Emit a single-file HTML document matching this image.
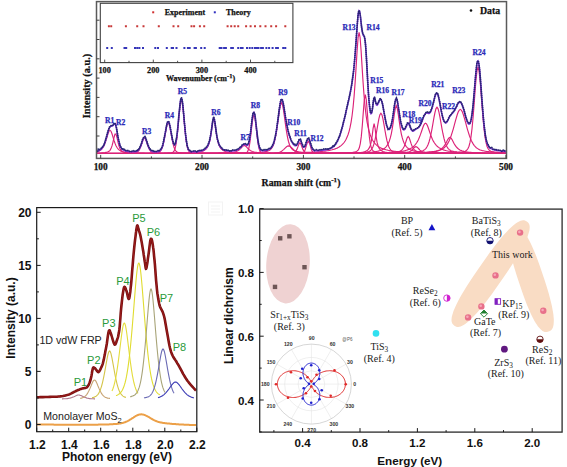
<!DOCTYPE html><html><head><meta charset="utf-8"><style>html,body{margin:0;padding:0;background:#fff;width:567px;height:467px;overflow:hidden}svg{display:block}</style></head><body>
<svg width="567" height="467" viewBox="0 0 567 467">
<rect width="567" height="467" fill="#fff"/>
<g fill="none" stroke="#dc2278" stroke-width="1.15">
<path d="M97 151.8 L98 151.5 L99 151.1 L100 150.6 L101 149.9 L102 148.9 L103 147.5 L104 145.7 L105 143.3 L106 140.4 L107 137.1 L108 133.8 L109 131.2 L110 130.2 L111 131.2 L112 133.8 L113 137.1 L114 140.4 L115 143.3 L116 145.7 L117 147.5 L118 148.9 L119 149.9 L120 150.6 L121 151.1 L122 151.5 L123 151.8 L124 152 L125 152.2 L126 152.3 L127 152.4 L128 152.5 L129 152.6 L130 152.7 L131 152.7 L132 152.8 L133 152.8 L134 152.9 L135 152.9 L136 153 L137 153 L138 153 L139 153 L140 153.1 L141 153.1 L142 153.1 L143 153.1 L144 153.1 L145 153.2 L146 153.2 L147 153.2 L148 153.2 L149 153.2 L150 153.2 L151 153.2 L152 153.2 L153 153.2 L154 153.2 L155 153.3 L156 153.3 L157 153.3 L158 153.3 L159 153.3 L160 153.3 L161 153.3 L162 153.3 L163 153.3 L164 153.3 L165 153.3 L166 153.3 L167 153.3 L168 153.3 L169 153.3 L170 153.3 L171 153.3 L172 153.3 L173 153.3 L174 153.3 L175 153.3 L176 153.3 L177 153.3 L178 153.3 L179 153.3 L180 153.3 L181 153.3 L182 153.3 L183 153.3 L184 153.3 L185 153.3 L186 153.3 L187 153.3 L188 153.3 L189 153.4 L190 153.4 L191 153.4 L192 153.4 L193 153.4 L194 153.4 L195 153.4 L196 153.4 L197 153.4 L198 153.4 L199 153.4"/>
<path d="M97 153.1 L98 153.1 L99 153.1 L100 153 L101 153 L102 152.9 L103 152.8 L104 152.7 L105 152.6 L106 152.4 L107 152.2 L108 151.8 L109 151.3 L110 150.3 L111 148.6 L112 145.9 L113 142.1 L114 137.5 L115 134 L116 134.1 L117 137.7 L118 142.2 L119 146 L120 148.7 L121 150.4 L122 151.3 L123 151.9 L124 152.2 L125 152.4 L126 152.6 L127 152.7 L128 152.8 L129 152.9 L130 153 L131 153 L132 153.1 L133 153.1 L134 153.1 L135 153.2 L136 153.2 L137 153.2 L138 153.2 L139 153.2 L140 153.2 L141 153.3 L142 153.3 L143 153.3 L144 153.3 L145 153.3 L146 153.3 L147 153.3 L148 153.3 L149 153.3 L150 153.3 L151 153.3 L152 153.3 L153 153.3 L154 153.3 L155 153.3 L156 153.3 L157 153.3 L158 153.3 L159 153.3 L160 153.4 L161 153.4 L162 153.4 L163 153.4 L164 153.4 L165 153.4 L166 153.4 L167 153.4 L168 153.4 L169 153.4 L170 153.4 L171 153.4 L172 153.4 L173 153.4 L174 153.4 L175 153.4 L176 153.4 L177 153.4 L178 153.4 L179 153.4 L180 153.4 L181 153.4 L182 153.4 L183 153.4 L184 153.4 L185 153.4 L186 153.4 L187 153.4 L188 153.4 L189 153.4 L190 153.4 L191 153.4 L192 153.4 L193 153.4 L194 153.4 L195 153.4 L196 153.4 L197 153.4 L198 153.4 L199 153.4 L200 153.4 L201 153.4 L202 153.4 L203 153.4 L204 153.4 L205 153.4"/>
<path d="M97 153.4 L98 153.4 L99 153.4 L100 153.4 L101 153.4 L102 153.4 L103 153.4 L104 153.4 L105 153.4 L106 153.4 L107 153.4 L108 153.4 L109 153.3 L110 153.3 L111 153.3 L112 153.3 L113 153.3 L114 153.3 L115 153.3 L116 153.3 L117 153.3 L118 153.3 L119 153.3 L120 153.3 L121 153.3 L122 153.3 L123 153.3 L124 153.2 L125 153.2 L126 153.2 L127 153.2 L128 153.2 L129 153.1 L130 153.1 L131 153.1 L132 153 L133 152.9 L134 152.8 L135 152.7 L136 152.5 L137 152.1 L138 151.5 L139 150.3 L140 148.6 L141 146.1 L142 143.1 L143 140.1 L144 138.2 L145 138.3 L146 140.4 L147 143.4 L148 146.4 L149 148.8 L150 150.5 L151 151.5 L152 152.2 L153 152.5 L154 152.7 L155 152.9 L156 152.9 L157 153 L158 153.1 L159 153.1 L160 153.1 L161 153.2 L162 153.2 L163 153.2 L164 153.2 L165 153.2 L166 153.3 L167 153.3 L168 153.3 L169 153.3 L170 153.3 L171 153.3 L172 153.3 L173 153.3 L174 153.3 L175 153.3 L176 153.3 L177 153.3 L178 153.3 L179 153.3 L180 153.3 L181 153.4 L182 153.4 L183 153.4 L184 153.4 L185 153.4 L186 153.4 L187 153.4 L188 153.4 L189 153.4 L190 153.4 L191 153.4 L192 153.4 L193 153.4 L194 153.4 L195 153.4 L196 153.4 L197 153.4 L198 153.4 L199 153.4 L200 153.4 L201 153.4 L202 153.4 L203 153.4 L204 153.4 L205 153.4 L206 153.4 L207 153.4 L208 153.4 L209 153.4 L210 153.4 L211 153.4 L212 153.4 L213 153.4 L214 153.4 L215 153.4 L216 153.4 L217 153.4 L218 153.4 L219 153.4 L220 153.4 L221 153.4 L222 153.4 L223 153.4 L224 153.4 L225 153.4 L226 153.4 L227 153.4 L228 153.4 L229 153.4 L230 153.4 L231 153.4 L232 153.4 L233 153.4 L234 153.4"/>
<path d="M97 153.4 L98 153.4 L99 153.4 L100 153.4 L101 153.4 L102 153.4 L103 153.4 L104 153.4 L105 153.4 L106 153.4 L107 153.4 L108 153.4 L109 153.4 L110 153.4 L111 153.4 L112 153.4 L113 153.4 L114 153.4 L115 153.4 L116 153.4 L117 153.4 L118 153.4 L119 153.4 L120 153.4 L121 153.4 L122 153.4 L123 153.4 L124 153.4 L125 153.4 L126 153.4 L127 153.3 L128 153.3 L129 153.3 L130 153.3 L131 153.3 L132 153.3 L133 153.3 L134 153.3 L135 153.3 L136 153.3 L137 153.3 L138 153.3 L139 153.3 L140 153.3 L141 153.3 L142 153.3 L143 153.3 L144 153.3 L145 153.2 L146 153.2 L147 153.2 L148 153.2 L149 153.2 L150 153.1 L151 153.1 L152 153.1 L153 153 L154 153 L155 152.9 L156 152.8 L157 152.7 L158 152.5 L159 152.2 L160 151.6 L161 150.4 L162 148.4 L163 145.3 L164 140.9 L165 135.5 L166 129.8 L167 125 L168 122.7 L169 123.7 L170 127.7 L171 133.2 L172 138.8 L173 143.7 L174 147.3 L175 149.8 L176 151.2 L177 152 L178 152.4 L179 152.7 L180 152.8 L181 152.9 L182 153 L183 153 L184 153.1 L185 153.1 L186 153.1 L187 153.2 L188 153.2 L189 153.2 L190 153.2 L191 153.2 L192 153.2 L193 153.3 L194 153.3 L195 153.3 L196 153.3 L197 153.3 L198 153.3 L199 153.3 L200 153.3 L201 153.3 L202 153.3 L203 153.3 L204 153.3 L205 153.3 L206 153.3 L207 153.3 L208 153.3 L209 153.3 L210 153.4 L211 153.4 L212 153.4 L213 153.4 L214 153.4 L215 153.4 L216 153.4 L217 153.4 L218 153.4 L219 153.4 L220 153.4 L221 153.4 L222 153.4 L223 153.4 L224 153.4 L225 153.4 L226 153.4 L227 153.4 L228 153.4 L229 153.4 L230 153.4 L231 153.4 L232 153.4 L233 153.4 L234 153.4 L235 153.4 L236 153.4 L237 153.4 L238 153.4 L239 153.4 L240 153.4 L241 153.4 L242 153.4 L243 153.4 L244 153.4 L245 153.4 L246 153.4 L247 153.4 L248 153.4 L249 153.4 L250 153.4 L251 153.4 L252 153.4 L253 153.4 L254 153.4 L255 153.4 L256 153.4 L257 153.4 L258 153.4"/>
<path d="M97 153.4 L98 153.4 L99 153.4 L100 153.4 L101 153.4 L102 153.4 L103 153.4 L104 153.4 L105 153.4 L106 153.4 L107 153.4 L108 153.4 L109 153.4 L110 153.4 L111 153.4 L112 153.4 L113 153.4 L114 153.4 L115 153.4 L116 153.4 L117 153.4 L118 153.4 L119 153.4 L120 153.4 L121 153.4 L122 153.4 L123 153.4 L124 153.4 L125 153.4 L126 153.4 L127 153.4 L128 153.4 L129 153.4 L130 153.4 L131 153.4 L132 153.4 L133 153.4 L134 153.4 L135 153.4 L136 153.4 L137 153.4 L138 153.4 L139 153.4 L140 153.4 L141 153.4 L142 153.4 L143 153.4 L144 153.4 L145 153.4 L146 153.4 L147 153.4 L148 153.4 L149 153.3 L150 153.3 L151 153.3 L152 153.3 L153 153.3 L154 153.3 L155 153.3 L156 153.3 L157 153.3 L158 153.3 L159 153.3 L160 153.3 L161 153.3 L162 153.3 L163 153.2 L164 153.2 L165 153.2 L166 153.2 L167 153.2 L168 153.1 L169 153.1 L170 153 L171 152.9 L172 152.7 L173 152.2 L174 151.1 L175 148.8 L176 144.5 L177 137.4 L178 127.6 L179 116.3 L180 106.1 L181 100.2 L182 101.1 L183 108.3 L184 119.1 L185 130.2 L186 139.4 L187 145.8 L188 149.5 L189 151.5 L190 152.4 L191 152.8 L192 152.9 L193 153 L194 153.1 L195 153.1 L196 153.2 L197 153.2 L198 153.2 L199 153.2 L200 153.3 L201 153.3 L202 153.3 L203 153.3 L204 153.3 L205 153.3 L206 153.3 L207 153.3 L208 153.3 L209 153.3 L210 153.3 L211 153.3 L212 153.3 L213 153.3 L214 153.4 L215 153.4 L216 153.4 L217 153.4 L218 153.4 L219 153.4 L220 153.4 L221 153.4 L222 153.4 L223 153.4 L224 153.4 L225 153.4 L226 153.4 L227 153.4 L228 153.4 L229 153.4 L230 153.4 L231 153.4 L232 153.4 L233 153.4 L234 153.4 L235 153.4 L236 153.4 L237 153.4 L238 153.4 L239 153.4 L240 153.4 L241 153.4 L242 153.4 L243 153.4 L244 153.4 L245 153.4 L246 153.4 L247 153.4 L248 153.4 L249 153.4 L250 153.4 L251 153.4 L252 153.4 L253 153.4 L254 153.4 L255 153.4 L256 153.4 L257 153.4 L258 153.4 L259 153.4 L260 153.4 L261 153.4 L262 153.4 L263 153.4 L264 153.4 L265 153.4 L266 153.4 L267 153.4 L268 153.4 L269 153.4 L270 153.4 L271 153.4"/>
<path d="M123.7 153.4 L124.7 153.4 L125.7 153.4 L126.7 153.4 L127.7 153.4 L128.7 153.4 L129.7 153.4 L130.7 153.4 L131.7 153.4 L132.7 153.4 L133.7 153.4 L134.7 153.4 L135.7 153.4 L136.7 153.4 L137.7 153.3 L138.7 153.3 L139.7 153.3 L140.7 153.3 L141.7 153.3 L142.7 153.3 L143.7 153.3 L144.7 153.3 L145.7 153.3 L146.7 153.3 L147.7 153.3 L148.7 153.3 L149.7 153.3 L150.7 153.3 L151.7 153.3 L152.7 153.3 L153.7 153.3 L154.7 153.3 L155.7 153.3 L156.7 153.3 L157.7 153.3 L158.7 153.3 L159.7 153.3 L160.7 153.3 L161.7 153.3 L162.7 153.3 L163.7 153.3 L164.7 153.3 L165.7 153.3 L166.7 153.3 L167.7 153.3 L168.7 153.3 L169.7 153.2 L170.7 153.2 L171.7 153.2 L172.7 153.2 L173.7 153.2 L174.7 153.2 L175.7 153.2 L176.7 153.2 L177.7 153.2 L178.7 153.2 L179.7 153.1 L180.7 153.1 L181.7 153.1 L182.7 153.1 L183.7 153.1 L184.7 153.1 L185.7 153 L186.7 153 L187.7 153 L188.7 152.9 L189.7 152.9 L190.7 152.8 L191.7 152.8 L192.7 152.7 L193.7 152.7 L194.7 152.6 L195.7 152.5 L196.7 152.4 L197.7 152.3 L198.7 152.1 L199.7 152 L200.7 151.7 L201.7 151.5 L202.7 151.1 L203.7 150.7 L204.7 150.1 L205.7 149.3 L206.7 148.2 L207.7 146.7 L208.7 144.4 L209.7 141 L210.7 136 L211.7 129.2 L212.7 122 L213.7 118.6 L214.7 122 L215.7 129.2 L216.7 136 L217.7 141 L218.7 144.4 L219.7 146.7 L220.7 148.2 L221.7 149.3 L222.7 150.1 L223.7 150.7 L224.7 151.1 L225.7 151.5 L226.7 151.7 L227.7 152 L228.7 152.1 L229.7 152.3 L230.7 152.4 L231.7 152.5 L232.7 152.6 L233.7 152.7 L234.7 152.7 L235.7 152.8 L236.7 152.8 L237.7 152.9 L238.7 152.9 L239.7 153 L240.7 153 L241.7 153 L242.7 153.1 L243.7 153.1 L244.7 153.1 L245.7 153.1 L246.7 153.1 L247.7 153.1 L248.7 153.2 L249.7 153.2 L250.7 153.2 L251.7 153.2 L252.7 153.2 L253.7 153.2 L254.7 153.2 L255.7 153.2 L256.7 153.2 L257.7 153.2 L258.7 153.3 L259.7 153.3 L260.7 153.3 L261.7 153.3 L262.7 153.3 L263.7 153.3 L264.7 153.3 L265.7 153.3 L266.7 153.3 L267.7 153.3 L268.7 153.3 L269.7 153.3 L270.7 153.3 L271.7 153.3 L272.7 153.3 L273.7 153.3 L274.7 153.3 L275.7 153.3 L276.7 153.3 L277.7 153.3 L278.7 153.3 L279.7 153.3 L280.7 153.3 L281.7 153.3 L282.7 153.3 L283.7 153.3 L284.7 153.3 L285.7 153.3 L286.7 153.3 L287.7 153.3 L288.7 153.3 L289.7 153.3 L290.7 153.4 L291.7 153.4 L292.7 153.4 L293.7 153.4 L294.7 153.4 L295.7 153.4 L296.7 153.4 L297.7 153.4 L298.7 153.4 L299.7 153.4 L300.7 153.4 L301.7 153.4 L302.7 153.4"/>
<path d="M154.3 153.4 L155.3 153.4 L156.3 153.4 L157.3 153.4 L158.3 153.4 L159.3 153.4 L160.3 153.4 L161.3 153.4 L162.3 153.4 L163.3 153.4 L164.3 153.4 L165.3 153.4 L166.3 153.4 L167.3 153.4 L168.3 153.4 L169.3 153.4 L170.3 153.4 L171.3 153.4 L172.3 153.4 L173.3 153.4 L174.3 153.4 L175.3 153.4 L176.3 153.4 L177.3 153.4 L178.3 153.4 L179.3 153.4 L180.3 153.4 L181.3 153.4 L182.3 153.4 L183.3 153.4 L184.3 153.4 L185.3 153.4 L186.3 153.4 L187.3 153.4 L188.3 153.3 L189.3 153.3 L190.3 153.3 L191.3 153.3 L192.3 153.3 L193.3 153.3 L194.3 153.3 L195.3 153.3 L196.3 153.3 L197.3 153.3 L198.3 153.3 L199.3 153.3 L200.3 153.3 L201.3 153.3 L202.3 153.3 L203.3 153.3 L204.3 153.3 L205.3 153.3 L206.3 153.3 L207.3 153.3 L208.3 153.3 L209.3 153.3 L210.3 153.3 L211.3 153.3 L212.3 153.2 L213.3 153.2 L214.3 153.2 L215.3 153.2 L216.3 153.2 L217.3 153.2 L218.3 153.2 L219.3 153.1 L220.3 153.1 L221.3 153.1 L222.3 153.1 L223.3 153 L224.3 153 L225.3 153 L226.3 152.9 L227.3 152.9 L228.3 152.8 L229.3 152.7 L230.3 152.7 L231.3 152.5 L232.3 152.4 L233.3 152.3 L234.3 152.1 L235.3 151.8 L236.3 151.5 L237.3 151.1 L238.3 150.5 L239.3 149.8 L240.3 148.9 L241.3 147.9 L242.3 146.7 L243.3 145.8 L244.3 145.4 L245.3 145.8 L246.3 146.7 L247.3 147.9 L248.3 148.9 L249.3 149.8 L250.3 150.5 L251.3 151.1 L252.3 151.5 L253.3 151.8 L254.3 152.1 L255.3 152.3 L256.3 152.4 L257.3 152.5 L258.3 152.7 L259.3 152.7 L260.3 152.8 L261.3 152.9 L262.3 152.9 L263.3 153 L264.3 153 L265.3 153 L266.3 153.1 L267.3 153.1 L268.3 153.1 L269.3 153.1 L270.3 153.2 L271.3 153.2 L272.3 153.2 L273.3 153.2 L274.3 153.2 L275.3 153.2 L276.3 153.2 L277.3 153.3 L278.3 153.3 L279.3 153.3 L280.3 153.3 L281.3 153.3 L282.3 153.3 L283.3 153.3 L284.3 153.3 L285.3 153.3 L286.3 153.3 L287.3 153.3 L288.3 153.3 L289.3 153.3 L290.3 153.3 L291.3 153.3 L292.3 153.3 L293.3 153.3 L294.3 153.3 L295.3 153.3 L296.3 153.3 L297.3 153.3 L298.3 153.3 L299.3 153.3 L300.3 153.3 L301.3 153.4 L302.3 153.4 L303.3 153.4 L304.3 153.4 L305.3 153.4 L306.3 153.4 L307.3 153.4 L308.3 153.4 L309.3 153.4 L310.3 153.4 L311.3 153.4 L312.3 153.4 L313.3 153.4 L314.3 153.4 L315.3 153.4 L316.3 153.4 L317.3 153.4 L318.3 153.4 L319.3 153.4 L320.3 153.4 L321.3 153.4 L322.3 153.4 L323.3 153.4 L324.3 153.4 L325.3 153.4 L326.3 153.4 L327.3 153.4 L328.3 153.4 L329.3 153.4 L330.3 153.4 L331.3 153.4 L332.3 153.4 L333.3 153.4 L334.3 153.4"/>
<path d="M163.9 153.4 L164.9 153.4 L165.9 153.4 L166.9 153.4 L167.9 153.4 L168.9 153.4 L169.9 153.4 L170.9 153.4 L171.9 153.4 L172.9 153.4 L173.9 153.4 L174.9 153.4 L175.9 153.4 L176.9 153.4 L177.9 153.4 L178.9 153.4 L179.9 153.4 L180.9 153.4 L181.9 153.4 L182.9 153.4 L183.9 153.4 L184.9 153.4 L185.9 153.4 L186.9 153.4 L187.9 153.4 L188.9 153.4 L189.9 153.4 L190.9 153.4 L191.9 153.4 L192.9 153.4 L193.9 153.4 L194.9 153.4 L195.9 153.4 L196.9 153.4 L197.9 153.4 L198.9 153.4 L199.9 153.4 L200.9 153.4 L201.9 153.4 L202.9 153.4 L203.9 153.4 L204.9 153.4 L205.9 153.4 L206.9 153.4 L207.9 153.4 L208.9 153.4 L209.9 153.4 L210.9 153.4 L211.9 153.4 L212.9 153.4 L213.9 153.4 L214.9 153.4 L215.9 153.4 L216.9 153.4 L217.9 153.4 L218.9 153.4 L219.9 153.4 L220.9 153.4 L221.9 153.4 L222.9 153.4 L223.9 153.4 L224.9 153.4 L225.9 153.4 L226.9 153.4 L227.9 153.4 L228.9 153.4 L229.9 153.4 L230.9 153.4 L231.9 153.4 L232.9 153.4 L233.9 153.4 L234.9 153.4 L235.9 153.4 L236.9 153.4 L237.9 153.4 L238.9 153.4 L239.9 153.4 L240.9 153.4 L241.9 153.4 L242.9 153.4 L243.9 153.4 L244.9 153.3 L245.9 153.1 L246.9 152.6 L247.9 151.1 L248.9 148 L249.9 142.4 L250.9 134.4 L251.9 125.3 L252.9 117.9 L253.9 115 L254.9 117.9 L255.9 125.3 L256.9 134.4 L257.9 142.4 L258.9 148 L259.9 151.1 L260.9 152.6 L261.9 153.1 L262.9 153.3 L263.9 153.4 L264.9 153.4 L265.9 153.4 L266.9 153.4 L267.9 153.4 L268.9 153.4 L269.9 153.4 L270.9 153.4 L271.9 153.4 L272.9 153.4 L273.9 153.4 L274.9 153.4 L275.9 153.4 L276.9 153.4 L277.9 153.4 L278.9 153.4 L279.9 153.4 L280.9 153.4 L281.9 153.4 L282.9 153.4 L283.9 153.4 L284.9 153.4 L285.9 153.4 L286.9 153.4 L287.9 153.4 L288.9 153.4 L289.9 153.4 L290.9 153.4 L291.9 153.4 L292.9 153.4 L293.9 153.4 L294.9 153.4 L295.9 153.4 L296.9 153.4 L297.9 153.4 L298.9 153.4 L299.9 153.4 L300.9 153.4 L301.9 153.4 L302.9 153.4 L303.9 153.4 L304.9 153.4 L305.9 153.4 L306.9 153.4 L307.9 153.4 L308.9 153.4 L309.9 153.4 L310.9 153.4 L311.9 153.4 L312.9 153.4 L313.9 153.4 L314.9 153.4 L315.9 153.4 L316.9 153.4 L317.9 153.4 L318.9 153.4 L319.9 153.4 L320.9 153.4 L321.9 153.4 L322.9 153.4 L323.9 153.4 L324.9 153.4 L325.9 153.4 L326.9 153.4 L327.9 153.4 L328.9 153.4 L329.9 153.4 L330.9 153.4 L331.9 153.4 L332.9 153.4 L333.9 153.4 L334.9 153.4 L335.9 153.4 L336.9 153.4 L337.9 153.4 L338.9 153.4 L339.9 153.4 L340.9 153.4 L341.9 153.4 L342.9 153.4"/>
<path d="M191.5 153.3 L192.5 153.3 L193.5 153.3 L194.5 153.3 L195.5 153.3 L196.5 153.3 L197.5 153.3 L198.5 153.3 L199.5 153.3 L200.5 153.3 L201.5 153.3 L202.5 153.3 L203.5 153.3 L204.5 153.3 L205.5 153.3 L206.5 153.3 L207.5 153.3 L208.5 153.3 L209.5 153.3 L210.5 153.3 L211.5 153.3 L212.5 153.3 L213.5 153.3 L214.5 153.3 L215.5 153.3 L216.5 153.3 L217.5 153.3 L218.5 153.3 L219.5 153.3 L220.5 153.3 L221.5 153.3 L222.5 153.3 L223.5 153.3 L224.5 153.3 L225.5 153.2 L226.5 153.2 L227.5 153.2 L228.5 153.2 L229.5 153.2 L230.5 153.2 L231.5 153.2 L232.5 153.2 L233.5 153.2 L234.5 153.2 L235.5 153.2 L236.5 153.2 L237.5 153.2 L238.5 153.1 L239.5 153.1 L240.5 153.1 L241.5 153.1 L242.5 153.1 L243.5 153.1 L244.5 153.1 L245.5 153 L246.5 153 L247.5 153 L248.5 153 L249.5 152.9 L250.5 152.9 L251.5 152.9 L252.5 152.8 L253.5 152.8 L254.5 152.8 L255.5 152.7 L256.5 152.6 L257.5 152.6 L258.5 152.5 L259.5 152.4 L260.5 152.3 L261.5 152.2 L262.5 152.1 L263.5 152 L264.5 151.8 L265.5 151.6 L266.5 151.4 L267.5 151.1 L268.5 150.8 L269.5 150.3 L270.5 149.5 L271.5 148.5 L272.5 147 L273.5 144.7 L274.5 141.5 L275.5 137.1 L276.5 131.4 L277.5 124.6 L278.5 117.2 L279.5 110.1 L280.5 104.7 L281.5 102.7 L282.5 104.7 L283.5 110.1 L284.5 117.2 L285.5 124.6 L286.5 131.4 L287.5 137.1 L288.5 141.5 L289.5 144.7 L290.5 147 L291.5 148.5 L292.5 149.5 L293.5 150.3 L294.5 150.8 L295.5 151.1 L296.5 151.4 L297.5 151.6 L298.5 151.8 L299.5 152 L300.5 152.1 L301.5 152.2 L302.5 152.3 L303.5 152.4 L304.5 152.5 L305.5 152.6 L306.5 152.6 L307.5 152.7 L308.5 152.8 L309.5 152.8 L310.5 152.8 L311.5 152.9 L312.5 152.9 L313.5 152.9 L314.5 153 L315.5 153 L316.5 153 L317.5 153 L318.5 153.1 L319.5 153.1 L320.5 153.1 L321.5 153.1 L322.5 153.1 L323.5 153.1 L324.5 153.1 L325.5 153.2 L326.5 153.2 L327.5 153.2 L328.5 153.2 L329.5 153.2 L330.5 153.2 L331.5 153.2 L332.5 153.2 L333.5 153.2 L334.5 153.2 L335.5 153.2 L336.5 153.2 L337.5 153.2 L338.5 153.3 L339.5 153.3 L340.5 153.3 L341.5 153.3 L342.5 153.3 L343.5 153.3 L344.5 153.3 L345.5 153.3 L346.5 153.3 L347.5 153.3 L348.5 153.3 L349.5 153.3 L350.5 153.3 L351.5 153.3 L352.5 153.3 L353.5 153.3 L354.5 153.3 L355.5 153.3 L356.5 153.3 L357.5 153.3 L358.5 153.3 L359.5 153.3 L360.5 153.3 L361.5 153.3 L362.5 153.3 L363.5 153.3 L364.5 153.3 L365.5 153.3 L366.5 153.3 L367.5 153.3 L368.5 153.3 L369.5 153.3 L370.5 153.3"/>
<path d="M198.6 153.4 L199.6 153.4 L200.6 153.4 L201.6 153.4 L202.6 153.4 L203.6 153.4 L204.6 153.4 L205.6 153.4 L206.6 153.4 L207.6 153.4 L208.6 153.4 L209.6 153.4 L210.6 153.4 L211.6 153.4 L212.6 153.4 L213.6 153.4 L214.6 153.4 L215.6 153.4 L216.6 153.4 L217.6 153.4 L218.6 153.4 L219.6 153.4 L220.6 153.4 L221.6 153.4 L222.6 153.4 L223.6 153.4 L224.6 153.4 L225.6 153.4 L226.6 153.4 L227.6 153.4 L228.6 153.4 L229.6 153.4 L230.6 153.4 L231.6 153.4 L232.6 153.4 L233.6 153.4 L234.6 153.4 L235.6 153.4 L236.6 153.4 L237.6 153.4 L238.6 153.4 L239.6 153.4 L240.6 153.4 L241.6 153.4 L242.6 153.4 L243.6 153.4 L244.6 153.4 L245.6 153.4 L246.6 153.4 L247.6 153.4 L248.6 153.4 L249.6 153.4 L250.6 153.4 L251.6 153.4 L252.6 153.4 L253.6 153.4 L254.6 153.4 L255.6 153.4 L256.6 153.3 L257.6 153.3 L258.6 153.3 L259.6 153.3 L260.6 153.3 L261.6 153.3 L262.6 153.3 L263.6 153.3 L264.6 153.3 L265.6 153.3 L266.6 153.3 L267.6 153.3 L268.6 153.3 L269.6 153.3 L270.6 153.2 L271.6 153.2 L272.6 153.2 L273.6 153.2 L274.6 153.1 L275.6 153.1 L276.6 153 L277.6 152.8 L278.6 152.6 L279.6 152.3 L280.6 151.8 L281.6 151.2 L282.6 150.4 L283.6 149.6 L284.6 148.6 L285.6 147.6 L286.6 146.7 L287.6 146.1 L288.6 145.9 L289.6 146.1 L290.6 146.7 L291.6 147.6 L292.6 148.6 L293.6 149.6 L294.6 150.4 L295.6 151.2 L296.6 151.8 L297.6 152.3 L298.6 152.6 L299.6 152.8 L300.6 153 L301.6 153.1 L302.6 153.1 L303.6 153.2 L304.6 153.2 L305.6 153.2 L306.6 153.2 L307.6 153.3 L308.6 153.3 L309.6 153.3 L310.6 153.3 L311.6 153.3 L312.6 153.3 L313.6 153.3 L314.6 153.3 L315.6 153.3 L316.6 153.3 L317.6 153.3 L318.6 153.3 L319.6 153.3 L320.6 153.3 L321.6 153.4 L322.6 153.4 L323.6 153.4 L324.6 153.4 L325.6 153.4 L326.6 153.4 L327.6 153.4 L328.6 153.4 L329.6 153.4 L330.6 153.4 L331.6 153.4 L332.6 153.4 L333.6 153.4 L334.6 153.4 L335.6 153.4 L336.6 153.4 L337.6 153.4 L338.6 153.4 L339.6 153.4 L340.6 153.4 L341.6 153.4 L342.6 153.4 L343.6 153.4 L344.6 153.4 L345.6 153.4 L346.6 153.4 L347.6 153.4 L348.6 153.4 L349.6 153.4 L350.6 153.4 L351.6 153.4 L352.6 153.4 L353.6 153.4 L354.6 153.4 L355.6 153.4 L356.6 153.4 L357.6 153.4 L358.6 153.4 L359.6 153.4 L360.6 153.4 L361.6 153.4 L362.6 153.4 L363.6 153.4 L364.6 153.4 L365.6 153.4 L366.6 153.4 L367.6 153.4 L368.6 153.4 L369.6 153.4 L370.6 153.4 L371.6 153.4 L372.6 153.4 L373.6 153.4 L374.6 153.4 L375.6 153.4 L376.6 153.4 L377.6 153.4"/>
<path d="M209.9 153.4 L210.9 153.4 L211.9 153.4 L212.9 153.4 L213.9 153.4 L214.9 153.4 L215.9 153.4 L216.9 153.4 L217.9 153.4 L218.9 153.4 L219.9 153.4 L220.9 153.4 L221.9 153.4 L222.9 153.4 L223.9 153.4 L224.9 153.4 L225.9 153.4 L226.9 153.4 L227.9 153.4 L228.9 153.4 L229.9 153.4 L230.9 153.4 L231.9 153.4 L232.9 153.4 L233.9 153.4 L234.9 153.4 L235.9 153.4 L236.9 153.4 L237.9 153.4 L238.9 153.4 L239.9 153.4 L240.9 153.4 L241.9 153.4 L242.9 153.4 L243.9 153.4 L244.9 153.4 L245.9 153.4 L246.9 153.4 L247.9 153.4 L248.9 153.4 L249.9 153.4 L250.9 153.4 L251.9 153.4 L252.9 153.4 L253.9 153.4 L254.9 153.4 L255.9 153.4 L256.9 153.4 L257.9 153.4 L258.9 153.4 L259.9 153.4 L260.9 153.4 L261.9 153.4 L262.9 153.4 L263.9 153.4 L264.9 153.4 L265.9 153.4 L266.9 153.4 L267.9 153.4 L268.9 153.4 L269.9 153.4 L270.9 153.4 L271.9 153.4 L272.9 153.4 L273.9 153.3 L274.9 153.3 L275.9 153.3 L276.9 153.3 L277.9 153.3 L278.9 153.3 L279.9 153.3 L280.9 153.3 L281.9 153.3 L282.9 153.3 L283.9 153.3 L284.9 153.3 L285.9 153.2 L286.9 153.2 L287.9 153.2 L288.9 153.1 L289.9 153.1 L290.9 153 L291.9 152.9 L292.9 152.8 L293.9 152.5 L294.9 152 L295.9 151.1 L296.9 149.4 L297.9 146.9 L298.9 144.1 L299.9 142.7 L300.9 144.1 L301.9 146.9 L302.9 149.4 L303.9 151.1 L304.9 152 L305.9 152.5 L306.9 152.8 L307.9 152.9 L308.9 153 L309.9 153.1 L310.9 153.1 L311.9 153.2 L312.9 153.2 L313.9 153.2 L314.9 153.3 L315.9 153.3 L316.9 153.3 L317.9 153.3 L318.9 153.3 L319.9 153.3 L320.9 153.3 L321.9 153.3 L322.9 153.3 L323.9 153.3 L324.9 153.3 L325.9 153.3 L326.9 153.4 L327.9 153.4 L328.9 153.4 L329.9 153.4 L330.9 153.4 L331.9 153.4 L332.9 153.4 L333.9 153.4 L334.9 153.4 L335.9 153.4 L336.9 153.4 L337.9 153.4 L338.9 153.4 L339.9 153.4 L340.9 153.4 L341.9 153.4 L342.9 153.4 L343.9 153.4 L344.9 153.4 L345.9 153.4 L346.9 153.4 L347.9 153.4 L348.9 153.4 L349.9 153.4 L350.9 153.4 L351.9 153.4 L352.9 153.4 L353.9 153.4 L354.9 153.4 L355.9 153.4 L356.9 153.4 L357.9 153.4 L358.9 153.4 L359.9 153.4 L360.9 153.4 L361.9 153.4 L362.9 153.4 L363.9 153.4 L364.9 153.4 L365.9 153.4 L366.9 153.4 L367.9 153.4 L368.9 153.4 L369.9 153.4 L370.9 153.4 L371.9 153.4 L372.9 153.4 L373.9 153.4 L374.9 153.4 L375.9 153.4 L376.9 153.4 L377.9 153.4 L378.9 153.4 L379.9 153.4 L380.9 153.4 L381.9 153.4 L382.9 153.4 L383.9 153.4 L384.9 153.4 L385.9 153.4 L386.9 153.4 L387.9 153.4 L388.9 153.4"/>
<path d="M218.3 153.4 L219.3 153.4 L220.3 153.4 L221.3 153.4 L222.3 153.4 L223.3 153.4 L224.3 153.4 L225.3 153.4 L226.3 153.4 L227.3 153.4 L228.3 153.4 L229.3 153.4 L230.3 153.4 L231.3 153.4 L232.3 153.4 L233.3 153.4 L234.3 153.4 L235.3 153.4 L236.3 153.4 L237.3 153.4 L238.3 153.4 L239.3 153.4 L240.3 153.4 L241.3 153.4 L242.3 153.4 L243.3 153.4 L244.3 153.4 L245.3 153.4 L246.3 153.4 L247.3 153.4 L248.3 153.4 L249.3 153.4 L250.3 153.4 L251.3 153.4 L252.3 153.4 L253.3 153.4 L254.3 153.4 L255.3 153.4 L256.3 153.4 L257.3 153.4 L258.3 153.4 L259.3 153.4 L260.3 153.4 L261.3 153.4 L262.3 153.4 L263.3 153.4 L264.3 153.4 L265.3 153.4 L266.3 153.4 L267.3 153.4 L268.3 153.4 L269.3 153.4 L270.3 153.4 L271.3 153.4 L272.3 153.4 L273.3 153.4 L274.3 153.4 L275.3 153.4 L276.3 153.4 L277.3 153.4 L278.3 153.4 L279.3 153.4 L280.3 153.4 L281.3 153.4 L282.3 153.4 L283.3 153.4 L284.3 153.4 L285.3 153.4 L286.3 153.4 L287.3 153.4 L288.3 153.4 L289.3 153.4 L290.3 153.4 L291.3 153.4 L292.3 153.4 L293.3 153.4 L294.3 153.4 L295.3 153.4 L296.3 153.4 L297.3 153.4 L298.3 153.4 L299.3 153.4 L300.3 153.4 L301.3 153.4 L302.3 153.2 L303.3 152.8 L304.3 151.6 L305.3 149.2 L306.3 145.9 L307.3 142.8 L308.3 141.5 L309.3 142.8 L310.3 145.9 L311.3 149.2 L312.3 151.6 L313.3 152.8 L314.3 153.2 L315.3 153.4 L316.3 153.4 L317.3 153.4 L318.3 153.4 L319.3 153.4 L320.3 153.4 L321.3 153.4 L322.3 153.4 L323.3 153.4 L324.3 153.4 L325.3 153.4 L326.3 153.4 L327.3 153.4 L328.3 153.4 L329.3 153.4 L330.3 153.4 L331.3 153.4 L332.3 153.4 L333.3 153.4 L334.3 153.4 L335.3 153.4 L336.3 153.4 L337.3 153.4 L338.3 153.4 L339.3 153.4 L340.3 153.4 L341.3 153.4 L342.3 153.4 L343.3 153.4 L344.3 153.4 L345.3 153.4 L346.3 153.4 L347.3 153.4 L348.3 153.4 L349.3 153.4 L350.3 153.4 L351.3 153.4 L352.3 153.4 L353.3 153.4 L354.3 153.4 L355.3 153.4 L356.3 153.4 L357.3 153.4 L358.3 153.4 L359.3 153.4 L360.3 153.4 L361.3 153.4 L362.3 153.4 L363.3 153.4 L364.3 153.4 L365.3 153.4 L366.3 153.4 L367.3 153.4 L368.3 153.4 L369.3 153.4 L370.3 153.4 L371.3 153.4 L372.3 153.4 L373.3 153.4 L374.3 153.4 L375.3 153.4 L376.3 153.4 L377.3 153.4 L378.3 153.4 L379.3 153.4 L380.3 153.4 L381.3 153.4 L382.3 153.4 L383.3 153.4 L384.3 153.4 L385.3 153.4 L386.3 153.4 L387.3 153.4 L388.3 153.4 L389.3 153.4 L390.3 153.4 L391.3 153.4 L392.3 153.4 L393.3 153.4 L394.3 153.4 L395.3 153.4 L396.3 153.4 L397.3 153.4"/>
<path d="M269.1 153.1 L270.1 153.1 L271.1 153.1 L272.1 153 L273.1 153 L274.1 153 L275.1 153 L276.1 153 L277.1 153 L278.1 153 L279.1 153 L280.1 153 L281.1 153 L282.1 152.9 L283.1 152.9 L284.1 152.9 L285.1 152.9 L286.1 152.9 L287.1 152.9 L288.1 152.9 L289.1 152.9 L290.1 152.8 L291.1 152.8 L292.1 152.8 L293.1 152.8 L294.1 152.8 L295.1 152.7 L296.1 152.7 L297.1 152.7 L298.1 152.7 L299.1 152.7 L300.1 152.6 L301.1 152.6 L302.1 152.6 L303.1 152.5 L304.1 152.5 L305.1 152.5 L306.1 152.4 L307.1 152.4 L308.1 152.4 L309.1 152.3 L310.1 152.3 L311.1 152.2 L312.1 152.2 L313.1 152.1 L314.1 152.1 L315.1 152 L316.1 152 L317.1 151.9 L318.1 151.8 L319.1 151.7 L320.1 151.6 L321.1 151.6 L322.1 151.5 L323.1 151.3 L324.1 151.2 L325.1 151.1 L326.1 151 L327.1 150.8 L328.1 150.7 L329.1 150.5 L330.1 150.3 L331.1 150 L332.1 149.8 L333.1 149.5 L334.1 149.2 L335.1 148.9 L336.1 148.5 L337.1 148.1 L338.1 147.6 L339.1 147 L340.1 146.3 L341.1 145.6 L342.1 144.7 L343.1 143.7 L344.1 142.5 L345.1 141 L346.1 139.3 L347.1 137.1 L348.1 134.5 L349.1 131.3 L350.1 127.2 L351.1 122.1 L352.1 115.5 L353.1 107 L354.1 96.3 L355.1 82.8 L356.1 67.1 L357.1 50.7 L358.1 37.5 L359.1 32.3 L360.1 37.5 L361.1 50.7 L362.1 67.1 L363.1 82.8 L364.1 96.3 L365.1 107 L366.1 115.5 L367.1 122.1 L368.1 127.2 L369.1 131.3 L370.1 134.5 L371.1 137.1 L372.1 139.3 L373.1 141 L374.1 142.5 L375.1 143.7 L376.1 144.7 L377.1 145.6 L378.1 146.3 L379.1 147 L380.1 147.6 L381.1 148.1 L382.1 148.5 L383.1 148.9 L384.1 149.2 L385.1 149.5 L386.1 149.8 L387.1 150 L388.1 150.3 L389.1 150.5 L390.1 150.7 L391.1 150.8 L392.1 151 L393.1 151.1 L394.1 151.2 L395.1 151.3 L396.1 151.5 L397.1 151.6 L398.1 151.6 L399.1 151.7 L400.1 151.8 L401.1 151.9 L402.1 152 L403.1 152 L404.1 152.1 L405.1 152.1 L406.1 152.2 L407.1 152.2 L408.1 152.3 L409.1 152.3 L410.1 152.4 L411.1 152.4 L412.1 152.4 L413.1 152.5 L414.1 152.5 L415.1 152.5 L416.1 152.6 L417.1 152.6 L418.1 152.6 L419.1 152.7 L420.1 152.7 L421.1 152.7 L422.1 152.7 L423.1 152.7 L424.1 152.8 L425.1 152.8 L426.1 152.8 L427.1 152.8 L428.1 152.8 L429.1 152.9 L430.1 152.9 L431.1 152.9 L432.1 152.9 L433.1 152.9 L434.1 152.9 L435.1 152.9 L436.1 152.9 L437.1 153 L438.1 153 L439.1 153 L440.1 153 L441.1 153 L442.1 153 L443.1 153 L444.1 153 L445.1 153 L446.1 153 L447.1 153.1 L448.1 153.1"/>
<path d="M275.3 153.4 L276.3 153.4 L277.3 153.4 L278.3 153.4 L279.3 153.4 L280.3 153.4 L281.3 153.4 L282.3 153.4 L283.3 153.4 L284.3 153.4 L285.3 153.4 L286.3 153.4 L287.3 153.4 L288.3 153.4 L289.3 153.4 L290.3 153.4 L291.3 153.4 L292.3 153.4 L293.3 153.4 L294.3 153.4 L295.3 153.4 L296.3 153.4 L297.3 153.4 L298.3 153.4 L299.3 153.4 L300.3 153.4 L301.3 153.4 L302.3 153.4 L303.3 153.4 L304.3 153.4 L305.3 153.4 L306.3 153.4 L307.3 153.4 L308.3 153.3 L309.3 153.3 L310.3 153.3 L311.3 153.3 L312.3 153.3 L313.3 153.3 L314.3 153.3 L315.3 153.3 L316.3 153.3 L317.3 153.3 L318.3 153.3 L319.3 153.3 L320.3 153.3 L321.3 153.3 L322.3 153.3 L323.3 153.3 L324.3 153.3 L325.3 153.3 L326.3 153.3 L327.3 153.3 L328.3 153.3 L329.3 153.3 L330.3 153.3 L331.3 153.3 L332.3 153.3 L333.3 153.2 L334.3 153.2 L335.3 153.2 L336.3 153.2 L337.3 153.2 L338.3 153.2 L339.3 153.2 L340.3 153.1 L341.3 153.1 L342.3 153.1 L343.3 153.1 L344.3 153 L345.3 153 L346.3 153 L347.3 152.9 L348.3 152.8 L349.3 152.8 L350.3 152.7 L351.3 152.6 L352.3 152.5 L353.3 152.3 L354.3 152.1 L355.3 151.9 L356.3 151.5 L357.3 150.9 L358.3 149.9 L359.3 147.8 L360.3 143.6 L361.3 136.4 L362.3 125.5 L363.3 112.2 L364.3 99.9 L365.3 94.7 L366.3 99.9 L367.3 112.2 L368.3 125.5 L369.3 136.4 L370.3 143.6 L371.3 147.8 L372.3 149.9 L373.3 150.9 L374.3 151.5 L375.3 151.9 L376.3 152.1 L377.3 152.3 L378.3 152.5 L379.3 152.6 L380.3 152.7 L381.3 152.8 L382.3 152.8 L383.3 152.9 L384.3 153 L385.3 153 L386.3 153 L387.3 153.1 L388.3 153.1 L389.3 153.1 L390.3 153.1 L391.3 153.2 L392.3 153.2 L393.3 153.2 L394.3 153.2 L395.3 153.2 L396.3 153.2 L397.3 153.2 L398.3 153.3 L399.3 153.3 L400.3 153.3 L401.3 153.3 L402.3 153.3 L403.3 153.3 L404.3 153.3 L405.3 153.3 L406.3 153.3 L407.3 153.3 L408.3 153.3 L409.3 153.3 L410.3 153.3 L411.3 153.3 L412.3 153.3 L413.3 153.3 L414.3 153.3 L415.3 153.3 L416.3 153.3 L417.3 153.3 L418.3 153.3 L419.3 153.3 L420.3 153.3 L421.3 153.3 L422.3 153.3 L423.3 153.4 L424.3 153.4 L425.3 153.4 L426.3 153.4 L427.3 153.4 L428.3 153.4 L429.3 153.4 L430.3 153.4 L431.3 153.4 L432.3 153.4 L433.3 153.4 L434.3 153.4 L435.3 153.4 L436.3 153.4 L437.3 153.4 L438.3 153.4 L439.3 153.4 L440.3 153.4 L441.3 153.4 L442.3 153.4 L443.3 153.4 L444.3 153.4 L445.3 153.4 L446.3 153.4 L447.3 153.4 L448.3 153.4 L449.3 153.4 L450.3 153.4 L451.3 153.4 L452.3 153.4 L453.3 153.4 L454.3 153.4"/>
<path d="M284.1 153.4 L285.1 153.4 L286.1 153.4 L287.1 153.4 L288.1 153.4 L289.1 153.4 L290.1 153.4 L291.1 153.4 L292.1 153.4 L293.1 153.4 L294.1 153.4 L295.1 153.4 L296.1 153.4 L297.1 153.4 L298.1 153.4 L299.1 153.4 L300.1 153.4 L301.1 153.4 L302.1 153.4 L303.1 153.4 L304.1 153.4 L305.1 153.4 L306.1 153.4 L307.1 153.4 L308.1 153.4 L309.1 153.4 L310.1 153.4 L311.1 153.4 L312.1 153.4 L313.1 153.4 L314.1 153.4 L315.1 153.4 L316.1 153.4 L317.1 153.4 L318.1 153.3 L319.1 153.3 L320.1 153.3 L321.1 153.3 L322.1 153.3 L323.1 153.3 L324.1 153.3 L325.1 153.3 L326.1 153.3 L327.1 153.3 L328.1 153.3 L329.1 153.3 L330.1 153.3 L331.1 153.3 L332.1 153.3 L333.1 153.3 L334.1 153.3 L335.1 153.3 L336.1 153.3 L337.1 153.3 L338.1 153.3 L339.1 153.3 L340.1 153.3 L341.1 153.3 L342.1 153.2 L343.1 153.2 L344.1 153.2 L345.1 153.2 L346.1 153.2 L347.1 153.2 L348.1 153.2 L349.1 153.2 L350.1 153.1 L351.1 153.1 L352.1 153.1 L353.1 153 L354.1 153 L355.1 153 L356.1 152.9 L357.1 152.9 L358.1 152.8 L359.1 152.7 L360.1 152.6 L361.1 152.5 L362.1 152.3 L363.1 152.2 L364.1 151.9 L365.1 151.6 L366.1 151.1 L367.1 150.5 L368.1 149.6 L369.1 148.2 L370.1 146 L371.1 142.4 L372.1 136.5 L373.1 128.4 L374.1 123.7 L375.1 128.4 L376.1 136.5 L377.1 142.4 L378.1 146 L379.1 148.2 L380.1 149.6 L381.1 150.5 L382.1 151.1 L383.1 151.6 L384.1 151.9 L385.1 152.2 L386.1 152.3 L387.1 152.5 L388.1 152.6 L389.1 152.7 L390.1 152.8 L391.1 152.9 L392.1 152.9 L393.1 153 L394.1 153 L395.1 153 L396.1 153.1 L397.1 153.1 L398.1 153.1 L399.1 153.2 L400.1 153.2 L401.1 153.2 L402.1 153.2 L403.1 153.2 L404.1 153.2 L405.1 153.2 L406.1 153.2 L407.1 153.3 L408.1 153.3 L409.1 153.3 L410.1 153.3 L411.1 153.3 L412.1 153.3 L413.1 153.3 L414.1 153.3 L415.1 153.3 L416.1 153.3 L417.1 153.3 L418.1 153.3 L419.1 153.3 L420.1 153.3 L421.1 153.3 L422.1 153.3 L423.1 153.3 L424.1 153.3 L425.1 153.3 L426.1 153.3 L427.1 153.3 L428.1 153.3 L429.1 153.3 L430.1 153.3 L431.1 153.4 L432.1 153.4 L433.1 153.4 L434.1 153.4 L435.1 153.4 L436.1 153.4 L437.1 153.4 L438.1 153.4 L439.1 153.4 L440.1 153.4 L441.1 153.4 L442.1 153.4 L443.1 153.4 L444.1 153.4 L445.1 153.4 L446.1 153.4 L447.1 153.4 L448.1 153.4 L449.1 153.4 L450.1 153.4 L451.1 153.4 L452.1 153.4 L453.1 153.4 L454.1 153.4 L455.1 153.4 L456.1 153.4 L457.1 153.4 L458.1 153.4 L459.1 153.4 L460.1 153.4 L461.1 153.4 L462.1 153.4 L463.1 153.4"/>
<path d="M290.9 153.4 L291.9 153.4 L292.9 153.4 L293.9 153.4 L294.9 153.4 L295.9 153.4 L296.9 153.4 L297.9 153.4 L298.9 153.4 L299.9 153.4 L300.9 153.4 L301.9 153.4 L302.9 153.4 L303.9 153.4 L304.9 153.4 L305.9 153.4 L306.9 153.3 L307.9 153.3 L308.9 153.3 L309.9 153.3 L310.9 153.3 L311.9 153.3 L312.9 153.3 L313.9 153.3 L314.9 153.3 L315.9 153.3 L316.9 153.3 L317.9 153.3 L318.9 153.3 L319.9 153.3 L320.9 153.3 L321.9 153.3 L322.9 153.3 L323.9 153.3 L324.9 153.3 L325.9 153.3 L326.9 153.3 L327.9 153.3 L328.9 153.3 L329.9 153.3 L330.9 153.3 L331.9 153.3 L332.9 153.3 L333.9 153.3 L334.9 153.3 L335.9 153.3 L336.9 153.3 L337.9 153.3 L338.9 153.2 L339.9 153.2 L340.9 153.2 L341.9 153.2 L342.9 153.2 L343.9 153.2 L344.9 153.2 L345.9 153.2 L346.9 153.2 L347.9 153.2 L348.9 153.1 L349.9 153.1 L350.9 153.1 L351.9 153.1 L352.9 153.1 L353.9 153 L354.9 153 L355.9 153 L356.9 152.9 L357.9 152.9 L358.9 152.9 L359.9 152.8 L360.9 152.7 L361.9 152.7 L362.9 152.6 L363.9 152.5 L364.9 152.4 L365.9 152.3 L366.9 152.1 L367.9 151.8 L368.9 151.5 L369.9 151 L370.9 150.1 L371.9 148.8 L372.9 146.9 L373.9 144.1 L374.9 140.4 L375.9 135.6 L376.9 130 L377.9 124.1 L378.9 118.7 L379.9 114.7 L380.9 113.2 L381.9 114.7 L382.9 118.7 L383.9 124.1 L384.9 130 L385.9 135.6 L386.9 140.4 L387.9 144.1 L388.9 146.9 L389.9 148.8 L390.9 150.1 L391.9 151 L392.9 151.5 L393.9 151.8 L394.9 152.1 L395.9 152.3 L396.9 152.4 L397.9 152.5 L398.9 152.6 L399.9 152.7 L400.9 152.7 L401.9 152.8 L402.9 152.9 L403.9 152.9 L404.9 152.9 L405.9 153 L406.9 153 L407.9 153 L408.9 153.1 L409.9 153.1 L410.9 153.1 L411.9 153.1 L412.9 153.1 L413.9 153.2 L414.9 153.2 L415.9 153.2 L416.9 153.2 L417.9 153.2 L418.9 153.2 L419.9 153.2 L420.9 153.2 L421.9 153.2 L422.9 153.2 L423.9 153.3 L424.9 153.3 L425.9 153.3 L426.9 153.3 L427.9 153.3 L428.9 153.3 L429.9 153.3 L430.9 153.3 L431.9 153.3 L432.9 153.3 L433.9 153.3 L434.9 153.3 L435.9 153.3 L436.9 153.3 L437.9 153.3 L438.9 153.3 L439.9 153.3 L440.9 153.3 L441.9 153.3 L442.9 153.3 L443.9 153.3 L444.9 153.3 L445.9 153.3 L446.9 153.3 L447.9 153.3 L448.9 153.3 L449.9 153.3 L450.9 153.3 L451.9 153.3 L452.9 153.3 L453.9 153.3 L454.9 153.3 L455.9 153.4 L456.9 153.4 L457.9 153.4 L458.9 153.4 L459.9 153.4 L460.9 153.4 L461.9 153.4 L462.9 153.4 L463.9 153.4 L464.9 153.4 L465.9 153.4 L466.9 153.4 L467.9 153.4 L468.9 153.4 L469.9 153.4"/>
<path d="M306.3 153.3 L307.3 153.3 L308.3 153.3 L309.3 153.3 L310.3 153.3 L311.3 153.3 L312.3 153.3 L313.3 153.3 L314.3 153.3 L315.3 153.3 L316.3 153.3 L317.3 153.3 L318.3 153.3 L319.3 153.3 L320.3 153.3 L321.3 153.3 L322.3 153.3 L323.3 153.3 L324.3 153.2 L325.3 153.2 L326.3 153.2 L327.3 153.2 L328.3 153.2 L329.3 153.2 L330.3 153.2 L331.3 153.2 L332.3 153.2 L333.3 153.2 L334.3 153.2 L335.3 153.2 L336.3 153.2 L337.3 153.2 L338.3 153.2 L339.3 153.2 L340.3 153.1 L341.3 153.1 L342.3 153.1 L343.3 153.1 L344.3 153.1 L345.3 153.1 L346.3 153.1 L347.3 153.1 L348.3 153.1 L349.3 153 L350.3 153 L351.3 153 L352.3 153 L353.3 153 L354.3 153 L355.3 152.9 L356.3 152.9 L357.3 152.9 L358.3 152.9 L359.3 152.8 L360.3 152.8 L361.3 152.8 L362.3 152.7 L363.3 152.7 L364.3 152.6 L365.3 152.6 L366.3 152.5 L367.3 152.5 L368.3 152.4 L369.3 152.3 L370.3 152.3 L371.3 152.2 L372.3 152.1 L373.3 151.9 L374.3 151.8 L375.3 151.7 L376.3 151.5 L377.3 151.3 L378.3 151.1 L379.3 150.8 L380.3 150.5 L381.3 150.1 L382.3 149.7 L383.3 149.1 L384.3 148.5 L385.3 147.6 L386.3 146.6 L387.3 145.2 L388.3 143.5 L389.3 141.1 L390.3 137.9 L391.3 133.8 L392.3 128.4 L393.3 121.7 L394.3 114.4 L395.3 108.3 L396.3 105.7 L397.3 108.3 L398.3 114.4 L399.3 121.7 L400.3 128.4 L401.3 133.8 L402.3 137.9 L403.3 141.1 L404.3 143.5 L405.3 145.2 L406.3 146.6 L407.3 147.6 L408.3 148.5 L409.3 149.1 L410.3 149.7 L411.3 150.1 L412.3 150.5 L413.3 150.8 L414.3 151.1 L415.3 151.3 L416.3 151.5 L417.3 151.7 L418.3 151.8 L419.3 151.9 L420.3 152.1 L421.3 152.2 L422.3 152.3 L423.3 152.3 L424.3 152.4 L425.3 152.5 L426.3 152.5 L427.3 152.6 L428.3 152.6 L429.3 152.7 L430.3 152.7 L431.3 152.8 L432.3 152.8 L433.3 152.8 L434.3 152.9 L435.3 152.9 L436.3 152.9 L437.3 152.9 L438.3 153 L439.3 153 L440.3 153 L441.3 153 L442.3 153 L443.3 153 L444.3 153.1 L445.3 153.1 L446.3 153.1 L447.3 153.1 L448.3 153.1 L449.3 153.1 L450.3 153.1 L451.3 153.1 L452.3 153.1 L453.3 153.2 L454.3 153.2 L455.3 153.2 L456.3 153.2 L457.3 153.2 L458.3 153.2 L459.3 153.2 L460.3 153.2 L461.3 153.2 L462.3 153.2 L463.3 153.2 L464.3 153.2 L465.3 153.2 L466.3 153.2 L467.3 153.2 L468.3 153.2 L469.3 153.3 L470.3 153.3 L471.3 153.3 L472.3 153.3 L473.3 153.3 L474.3 153.3 L475.3 153.3 L476.3 153.3 L477.3 153.3 L478.3 153.3 L479.3 153.3 L480.3 153.3 L481.3 153.3 L482.3 153.3 L483.3 153.3 L484.3 153.3 L485.3 153.3"/>
<path d="M318.2 153.4 L319.2 153.4 L320.2 153.4 L321.2 153.4 L322.2 153.4 L323.2 153.4 L324.2 153.4 L325.2 153.4 L326.2 153.4 L327.2 153.4 L328.2 153.4 L329.2 153.4 L330.2 153.4 L331.2 153.4 L332.2 153.4 L333.2 153.4 L334.2 153.4 L335.2 153.4 L336.2 153.4 L337.2 153.4 L338.2 153.4 L339.2 153.4 L340.2 153.4 L341.2 153.4 L342.2 153.4 L343.2 153.4 L344.2 153.4 L345.2 153.4 L346.2 153.4 L347.2 153.4 L348.2 153.4 L349.2 153.4 L350.2 153.3 L351.2 153.3 L352.2 153.3 L353.2 153.3 L354.2 153.3 L355.2 153.3 L356.2 153.3 L357.2 153.3 L358.2 153.3 L359.2 153.3 L360.2 153.3 L361.2 153.3 L362.2 153.3 L363.2 153.3 L364.2 153.3 L365.2 153.3 L366.2 153.3 L367.2 153.3 L368.2 153.3 L369.2 153.3 L370.2 153.3 L371.2 153.3 L372.2 153.3 L373.2 153.3 L374.2 153.3 L375.2 153.2 L376.2 153.2 L377.2 153.2 L378.2 153.2 L379.2 153.2 L380.2 153.2 L381.2 153.2 L382.2 153.2 L383.2 153.1 L384.2 153.1 L385.2 153.1 L386.2 153.1 L387.2 153 L388.2 153 L389.2 152.9 L390.2 152.9 L391.2 152.8 L392.2 152.8 L393.2 152.7 L394.2 152.6 L395.2 152.5 L396.2 152.3 L397.2 152.1 L398.2 151.9 L399.2 151.5 L400.2 151.1 L401.2 150.5 L402.2 149.6 L403.2 148.3 L404.2 146.4 L405.2 143.9 L406.2 140.8 L407.2 137.8 L408.2 136.5 L409.2 137.8 L410.2 140.8 L411.2 143.9 L412.2 146.4 L413.2 148.3 L414.2 149.6 L415.2 150.5 L416.2 151.1 L417.2 151.5 L418.2 151.9 L419.2 152.1 L420.2 152.3 L421.2 152.5 L422.2 152.6 L423.2 152.7 L424.2 152.8 L425.2 152.8 L426.2 152.9 L427.2 152.9 L428.2 153 L429.2 153 L430.2 153.1 L431.2 153.1 L432.2 153.1 L433.2 153.1 L434.2 153.2 L435.2 153.2 L436.2 153.2 L437.2 153.2 L438.2 153.2 L439.2 153.2 L440.2 153.2 L441.2 153.2 L442.2 153.3 L443.2 153.3 L444.2 153.3 L445.2 153.3 L446.2 153.3 L447.2 153.3 L448.2 153.3 L449.2 153.3 L450.2 153.3 L451.2 153.3 L452.2 153.3 L453.2 153.3 L454.2 153.3 L455.2 153.3 L456.2 153.3 L457.2 153.3 L458.2 153.3 L459.2 153.3 L460.2 153.3 L461.2 153.3 L462.2 153.3 L463.2 153.3 L464.2 153.3 L465.2 153.3 L466.2 153.3 L467.2 153.4 L468.2 153.4 L469.2 153.4 L470.2 153.4 L471.2 153.4 L472.2 153.4 L473.2 153.4 L474.2 153.4 L475.2 153.4 L476.2 153.4 L477.2 153.4 L478.2 153.4 L479.2 153.4 L480.2 153.4 L481.2 153.4 L482.2 153.4 L483.2 153.4 L484.2 153.4 L485.2 153.4 L486.2 153.4 L487.2 153.4 L488.2 153.4 L489.2 153.4 L490.2 153.4 L491.2 153.4 L492.2 153.4 L493.2 153.4 L494.2 153.4 L495.2 153.4 L496.2 153.4 L497.2 153.4"/>
<path d="M325.9 153.4 L326.9 153.4 L327.9 153.4 L328.9 153.4 L329.9 153.4 L330.9 153.4 L331.9 153.4 L332.9 153.4 L333.9 153.4 L334.9 153.4 L335.9 153.4 L336.9 153.4 L337.9 153.4 L338.9 153.4 L339.9 153.4 L340.9 153.4 L341.9 153.4 L342.9 153.4 L343.9 153.4 L344.9 153.4 L345.9 153.4 L346.9 153.4 L347.9 153.4 L348.9 153.4 L349.9 153.4 L350.9 153.4 L351.9 153.4 L352.9 153.4 L353.9 153.4 L354.9 153.4 L355.9 153.4 L356.9 153.4 L357.9 153.4 L358.9 153.4 L359.9 153.4 L360.9 153.4 L361.9 153.4 L362.9 153.4 L363.9 153.4 L364.9 153.4 L365.9 153.4 L366.9 153.4 L367.9 153.4 L368.9 153.4 L369.9 153.4 L370.9 153.4 L371.9 153.4 L372.9 153.4 L373.9 153.4 L374.9 153.4 L375.9 153.4 L376.9 153.3 L377.9 153.3 L378.9 153.3 L379.9 153.3 L380.9 153.3 L381.9 153.3 L382.9 153.3 L383.9 153.3 L384.9 153.3 L385.9 153.3 L386.9 153.3 L387.9 153.3 L388.9 153.3 L389.9 153.3 L390.9 153.3 L391.9 153.3 L392.9 153.3 L393.9 153.2 L394.9 153.2 L395.9 153.2 L396.9 153.2 L397.9 153.2 L398.9 153.1 L399.9 153.1 L400.9 153.1 L401.9 153 L402.9 153 L403.9 152.9 L404.9 152.8 L405.9 152.7 L406.9 152.6 L407.9 152.3 L408.9 152 L409.9 151.5 L410.9 150.9 L411.9 150.1 L412.9 149 L413.9 147.9 L414.9 147 L415.9 146.6 L416.9 147 L417.9 147.9 L418.9 149 L419.9 150.1 L420.9 150.9 L421.9 151.5 L422.9 152 L423.9 152.3 L424.9 152.6 L425.9 152.7 L426.9 152.8 L427.9 152.9 L428.9 153 L429.9 153 L430.9 153.1 L431.9 153.1 L432.9 153.1 L433.9 153.2 L434.9 153.2 L435.9 153.2 L436.9 153.2 L437.9 153.2 L438.9 153.3 L439.9 153.3 L440.9 153.3 L441.9 153.3 L442.9 153.3 L443.9 153.3 L444.9 153.3 L445.9 153.3 L446.9 153.3 L447.9 153.3 L448.9 153.3 L449.9 153.3 L450.9 153.3 L451.9 153.3 L452.9 153.3 L453.9 153.3 L454.9 153.3 L455.9 153.4 L456.9 153.4 L457.9 153.4 L458.9 153.4 L459.9 153.4 L460.9 153.4 L461.9 153.4 L462.9 153.4 L463.9 153.4 L464.9 153.4 L465.9 153.4 L466.9 153.4 L467.9 153.4 L468.9 153.4 L469.9 153.4 L470.9 153.4 L471.9 153.4 L472.9 153.4 L473.9 153.4 L474.9 153.4 L475.9 153.4 L476.9 153.4 L477.9 153.4 L478.9 153.4 L479.9 153.4 L480.9 153.4 L481.9 153.4 L482.9 153.4 L483.9 153.4 L484.9 153.4 L485.9 153.4 L486.9 153.4 L487.9 153.4 L488.9 153.4 L489.9 153.4 L490.9 153.4 L491.9 153.4 L492.9 153.4 L493.9 153.4 L494.9 153.4 L495.9 153.4 L496.9 153.4 L497.9 153.4 L498.9 153.4 L499.9 153.4 L500.9 153.4 L501.9 153.4 L502.9 153.4 L503.9 153.4 L504.9 153.4"/>
<path d="M335.5 153.2 L336.5 153.2 L337.5 153.2 L338.5 153.2 L339.5 153.2 L340.5 153.2 L341.5 153.2 L342.5 153.2 L343.5 153.2 L344.5 153.2 L345.5 153.2 L346.5 153.2 L347.5 153.2 L348.5 153.2 L349.5 153.2 L350.5 153.2 L351.5 153.2 L352.5 153.2 L353.5 153.2 L354.5 153.1 L355.5 153.1 L356.5 153.1 L357.5 153.1 L358.5 153.1 L359.5 153.1 L360.5 153.1 L361.5 153.1 L362.5 153.1 L363.5 153.1 L364.5 153.1 L365.5 153 L366.5 153 L367.5 153 L368.5 153 L369.5 153 L370.5 153 L371.5 153 L372.5 153 L373.5 152.9 L374.5 152.9 L375.5 152.9 L376.5 152.9 L377.5 152.9 L378.5 152.8 L379.5 152.8 L380.5 152.8 L381.5 152.8 L382.5 152.7 L383.5 152.7 L384.5 152.7 L385.5 152.6 L386.5 152.6 L387.5 152.5 L388.5 152.5 L389.5 152.4 L390.5 152.4 L391.5 152.3 L392.5 152.3 L393.5 152.2 L394.5 152.1 L395.5 152 L396.5 152 L397.5 151.9 L398.5 151.7 L399.5 151.6 L400.5 151.5 L401.5 151.3 L402.5 151.2 L403.5 151 L404.5 150.8 L405.5 150.5 L406.5 150.2 L407.5 149.9 L408.5 149.5 L409.5 149.1 L410.5 148.6 L411.5 148 L412.5 147.4 L413.5 146.5 L414.5 145.6 L415.5 144.4 L416.5 143 L417.5 141.4 L418.5 139.4 L419.5 137.1 L420.5 134.4 L421.5 131.5 L422.5 128.5 L423.5 125.8 L424.5 123.9 L425.5 123.2 L426.5 123.9 L427.5 125.8 L428.5 128.5 L429.5 131.5 L430.5 134.4 L431.5 137.1 L432.5 139.4 L433.5 141.4 L434.5 143 L435.5 144.4 L436.5 145.6 L437.5 146.5 L438.5 147.4 L439.5 148 L440.5 148.6 L441.5 149.1 L442.5 149.5 L443.5 149.9 L444.5 150.2 L445.5 150.5 L446.5 150.8 L447.5 151 L448.5 151.2 L449.5 151.3 L450.5 151.5 L451.5 151.6 L452.5 151.7 L453.5 151.9 L454.5 152 L455.5 152 L456.5 152.1 L457.5 152.2 L458.5 152.3 L459.5 152.3 L460.5 152.4 L461.5 152.4 L462.5 152.5 L463.5 152.5 L464.5 152.6 L465.5 152.6 L466.5 152.7 L467.5 152.7 L468.5 152.7 L469.5 152.8 L470.5 152.8 L471.5 152.8 L472.5 152.8 L473.5 152.9 L474.5 152.9 L475.5 152.9 L476.5 152.9 L477.5 152.9 L478.5 153 L479.5 153 L480.5 153 L481.5 153 L482.5 153 L483.5 153 L484.5 153 L485.5 153 L486.5 153.1 L487.5 153.1 L488.5 153.1 L489.5 153.1 L490.5 153.1 L491.5 153.1 L492.5 153.1 L493.5 153.1 L494.5 153.1 L495.5 153.1 L496.5 153.1 L497.5 153.2 L498.5 153.2 L499.5 153.2 L500.5 153.2 L501.5 153.2 L502.5 153.2 L503.5 153.2 L504.5 153.2 L505.5 153.2"/>
<path d="M347 153.3 L348 153.3 L349 153.3 L350 153.3 L351 153.3 L352 153.3 L353 153.3 L354 153.3 L355 153.3 L356 153.3 L357 153.3 L358 153.3 L359 153.3 L360 153.3 L361 153.3 L362 153.3 L363 153.3 L364 153.3 L365 153.3 L366 153.3 L367 153.3 L368 153.3 L369 153.3 L370 153.3 L371 153.3 L372 153.3 L373 153.3 L374 153.3 L375 153.3 L376 153.2 L377 153.2 L378 153.2 L379 153.2 L380 153.2 L381 153.2 L382 153.2 L383 153.2 L384 153.2 L385 153.2 L386 153.2 L387 153.2 L388 153.2 L389 153.2 L390 153.1 L391 153.1 L392 153.1 L393 153.1 L394 153.1 L395 153.1 L396 153.1 L397 153 L398 153 L399 153 L400 153 L401 153 L402 152.9 L403 152.9 L404 152.9 L405 152.9 L406 152.8 L407 152.8 L408 152.7 L409 152.7 L410 152.6 L411 152.6 L412 152.5 L413 152.5 L414 152.4 L415 152.3 L416 152.2 L417 152.1 L418 151.9 L419 151.8 L420 151.6 L421 151.3 L422 151 L423 150.7 L424 150.1 L425 149.4 L426 148.3 L427 146.8 L428 144.8 L429 142 L430 138.4 L431 134 L432 128.9 L433 123.2 L434 117.4 L435 112.3 L436 108.6 L437 107.3 L438 108.6 L439 112.3 L440 117.4 L441 123.2 L442 128.9 L443 134 L444 138.4 L445 142 L446 144.8 L447 146.8 L448 148.3 L449 149.4 L450 150.1 L451 150.7 L452 151 L453 151.3 L454 151.6 L455 151.8 L456 151.9 L457 152.1 L458 152.2 L459 152.3 L460 152.4 L461 152.5 L462 152.5 L463 152.6 L464 152.6 L465 152.7 L466 152.7 L467 152.8 L468 152.8 L469 152.9 L470 152.9 L471 152.9 L472 152.9 L473 153 L474 153 L475 153 L476 153 L477 153 L478 153.1 L479 153.1 L480 153.1 L481 153.1 L482 153.1 L483 153.1 L484 153.1 L485 153.2 L486 153.2 L487 153.2 L488 153.2 L489 153.2 L490 153.2 L491 153.2 L492 153.2 L493 153.2 L494 153.2 L495 153.2 L496 153.2 L497 153.2 L498 153.2 L499 153.3 L500 153.3 L501 153.3 L502 153.3 L503 153.3 L504 153.3 L505 153.3 L506 153.3"/>
<path d="M359.9 153.3 L360.9 153.3 L361.9 153.3 L362.9 153.3 L363.9 153.3 L364.9 153.3 L365.9 153.3 L366.9 153.3 L367.9 153.3 L368.9 153.3 L369.9 153.3 L370.9 153.3 L371.9 153.3 L372.9 153.3 L373.9 153.3 L374.9 153.3 L375.9 153.3 L376.9 153.3 L377.9 153.3 L378.9 153.3 L379.9 153.3 L380.9 153.3 L381.9 153.3 L382.9 153.3 L383.9 153.3 L384.9 153.3 L385.9 153.3 L386.9 153.3 L387.9 153.3 L388.9 153.3 L389.9 153.3 L390.9 153.3 L391.9 153.3 L392.9 153.3 L393.9 153.3 L394.9 153.3 L395.9 153.2 L396.9 153.2 L397.9 153.2 L398.9 153.2 L399.9 153.2 L400.9 153.2 L401.9 153.2 L402.9 153.2 L403.9 153.2 L404.9 153.2 L405.9 153.2 L406.9 153.2 L407.9 153.1 L408.9 153.1 L409.9 153.1 L410.9 153.1 L411.9 153.1 L412.9 153.1 L413.9 153.1 L414.9 153 L415.9 153 L416.9 153 L417.9 153 L418.9 152.9 L419.9 152.9 L420.9 152.9 L421.9 152.8 L422.9 152.8 L423.9 152.8 L424.9 152.7 L425.9 152.7 L426.9 152.6 L427.9 152.5 L428.9 152.4 L429.9 152.3 L430.9 152.2 L431.9 152.1 L432.9 152 L433.9 151.8 L434.9 151.6 L435.9 151.4 L436.9 151.1 L437.9 150.8 L438.9 150.4 L439.9 149.9 L440.9 149.3 L441.9 148.5 L442.9 147.5 L443.9 146.4 L444.9 144.9 L445.9 143.2 L446.9 141.2 L447.9 139.3 L448.9 137.9 L449.9 137.3 L450.9 137.9 L451.9 139.3 L452.9 141.2 L453.9 143.2 L454.9 144.9 L455.9 146.4 L456.9 147.5 L457.9 148.5 L458.9 149.3 L459.9 149.9 L460.9 150.4 L461.9 150.8 L462.9 151.1 L463.9 151.4 L464.9 151.6 L465.9 151.8 L466.9 152 L467.9 152.1 L468.9 152.2 L469.9 152.3 L470.9 152.4 L471.9 152.5 L472.9 152.6 L473.9 152.7 L474.9 152.7 L475.9 152.8 L476.9 152.8 L477.9 152.8 L478.9 152.9 L479.9 152.9 L480.9 152.9 L481.9 153 L482.9 153 L483.9 153 L484.9 153 L485.9 153.1 L486.9 153.1 L487.9 153.1 L488.9 153.1 L489.9 153.1 L490.9 153.1 L491.9 153.1 L492.9 153.2 L493.9 153.2 L494.9 153.2 L495.9 153.2 L496.9 153.2 L497.9 153.2 L498.9 153.2 L499.9 153.2 L500.9 153.2 L501.9 153.2 L502.9 153.2 L503.9 153.2 L504.9 153.3 L505.9 153.3"/>
<path d="M370.3 153.2 L371.3 153.2 L372.3 153.2 L373.3 153.2 L374.3 153.2 L375.3 153.2 L376.3 153.2 L377.3 153.2 L378.3 153.2 L379.3 153.2 L380.3 153.2 L381.3 153.2 L382.3 153.2 L383.3 153.2 L384.3 153.1 L385.3 153.1 L386.3 153.1 L387.3 153.1 L388.3 153.1 L389.3 153.1 L390.3 153.1 L391.3 153.1 L392.3 153.1 L393.3 153.1 L394.3 153.1 L395.3 153.1 L396.3 153 L397.3 153 L398.3 153 L399.3 153 L400.3 153 L401.3 153 L402.3 153 L403.3 153 L404.3 152.9 L405.3 152.9 L406.3 152.9 L407.3 152.9 L408.3 152.9 L409.3 152.8 L410.3 152.8 L411.3 152.8 L412.3 152.8 L413.3 152.7 L414.3 152.7 L415.3 152.7 L416.3 152.7 L417.3 152.6 L418.3 152.6 L419.3 152.5 L420.3 152.5 L421.3 152.5 L422.3 152.4 L423.3 152.4 L424.3 152.3 L425.3 152.2 L426.3 152.2 L427.3 152.1 L428.3 152 L429.3 151.9 L430.3 151.9 L431.3 151.8 L432.3 151.6 L433.3 151.5 L434.3 151.4 L435.3 151.2 L436.3 151 L437.3 150.8 L438.3 150.6 L439.3 150.3 L440.3 150 L441.3 149.6 L442.3 149.1 L443.3 148.4 L444.3 147.7 L445.3 146.7 L446.3 145.6 L447.3 144.1 L448.3 142.4 L449.3 140.4 L450.3 138 L451.3 135.2 L452.3 132.1 L453.3 128.8 L454.3 125.2 L455.3 121.4 L456.3 117.8 L457.3 114.5 L458.3 111.8 L459.3 110.1 L460.3 109.4 L461.3 110.1 L462.3 111.8 L463.3 114.5 L464.3 117.8 L465.3 121.4 L466.3 125.2 L467.3 128.8 L468.3 132.1 L469.3 135.2 L470.3 138 L471.3 140.4 L472.3 142.4 L473.3 144.1 L474.3 145.6 L475.3 146.7 L476.3 147.7 L477.3 148.4 L478.3 149.1 L479.3 149.6 L480.3 150 L481.3 150.3 L482.3 150.6 L483.3 150.8 L484.3 151 L485.3 151.2 L486.3 151.4 L487.3 151.5 L488.3 151.6 L489.3 151.8 L490.3 151.9 L491.3 151.9 L492.3 152 L493.3 152.1 L494.3 152.2 L495.3 152.2 L496.3 152.3 L497.3 152.4 L498.3 152.4 L499.3 152.5 L500.3 152.5 L501.3 152.5 L502.3 152.6 L503.3 152.6 L504.3 152.7 L505.3 152.7 L506.3 152.7"/>
<path d="M388 153.4 L389 153.4 L390 153.4 L391 153.3 L392 153.3 L393 153.3 L394 153.3 L395 153.3 L396 153.3 L397 153.3 L398 153.3 L399 153.3 L400 153.3 L401 153.3 L402 153.3 L403 153.3 L404 153.3 L405 153.3 L406 153.3 L407 153.3 L408 153.3 L409 153.3 L410 153.3 L411 153.3 L412 153.3 L413 153.3 L414 153.3 L415 153.3 L416 153.3 L417 153.3 L418 153.3 L419 153.3 L420 153.3 L421 153.3 L422 153.3 L423 153.3 L424 153.3 L425 153.3 L426 153.3 L427 153.3 L428 153.2 L429 153.2 L430 153.2 L431 153.2 L432 153.2 L433 153.2 L434 153.2 L435 153.2 L436 153.2 L437 153.2 L438 153.2 L439 153.2 L440 153.1 L441 153.1 L442 153.1 L443 153.1 L444 153.1 L445 153.1 L446 153 L447 153 L448 153 L449 153 L450 152.9 L451 152.9 L452 152.9 L453 152.8 L454 152.8 L455 152.7 L456 152.6 L457 152.6 L458 152.5 L459 152.4 L460 152.3 L461 152.2 L462 152 L463 151.8 L464 151.6 L465 151.2 L466 150.7 L467 149.9 L468 148.5 L469 146.2 L470 142.4 L471 136.8 L472 128.7 L473 118.2 L474 105.6 L475 92.2 L476 79.7 L477 70.6 L478 67.2 L479 70.6 L480 79.7 L481 92.2 L482 105.6 L483 118.2 L484 128.7 L485 136.8 L486 142.4 L487 146.2 L488 148.5 L489 149.9 L490 150.7 L491 151.2 L492 151.6 L493 151.8 L494 152 L495 152.2 L496 152.3 L497 152.4 L498 152.5 L499 152.6 L500 152.6 L501 152.7 L502 152.8 L503 152.8 L504 152.9 L505 152.9 L506 152.9"/>
</g>
<path d="M97 151.3 L97.5 151.1 L98 151 L98.5 150.8 L99 150.6 L99.5 150.3 L100 150 L100.5 149.7 L101 149.3 L101.5 148.8 L102 148.2 L102.5 147.5 L103 146.7 L103.5 145.8 L104 144.8 L104.5 143.6 L105 142.2 L105.5 140.8 L106 139.1 L106.5 137.4 L107 135.6 L107.5 133.8 L108 132 L108.5 130.3 L109 128.8 L109.5 127.7 L110 126.9 L110.5 126.4 L111 126.2 L111.5 126.1 L112 126 L112.5 125.8 L113 125.4 L113.5 124.9 L114 124.2 L114.5 123.7 L115 123.6 L115.5 124.4 L116 126.1 L116.5 128.6 L117 131.5 L117.5 134.5 L118 137.4 L118.5 140 L119 142.2 L119.5 144.1 L120 145.6 L120.5 146.8 L121 147.7 L121.5 148.5 L122 149 L122.5 149.5 L123 149.8 L123.5 150.1 L124 150.4 L124.5 150.6 L125 150.8 L125.5 150.9 L126 151 L126.5 151.2 L127 151.3 L127.5 151.4 L128 151.4 L128.5 151.5 L129 151.6 L129.5 151.6 L130 151.7 L130.5 151.7 L131 151.7 L131.5 151.7 L132 151.8 L132.5 151.8 L133 151.8 L133.5 151.8 L134 151.8 L134.5 151.7 L135 151.7 L135.5 151.6 L136 151.5 L136.5 151.4 L137 151.2 L137.5 150.9 L138 150.6 L138.5 150.1 L139 149.5 L139.5 148.7 L140 147.7 L140.5 146.6 L141 145.2 L141.5 143.8 L142 142.2 L142.5 140.7 L143 139.3 L143.5 138.1 L144 137.4 L144.5 137.2 L145 137.5 L145.5 138.3 L146 139.6 L146.5 141 L147 142.6 L147.5 144.1 L148 145.5 L148.5 146.8 L149 148 L149.5 148.9 L150 149.6 L150.5 150.2 L151 150.7 L151.5 151 L152 151.3 L152.5 151.5 L153 151.6 L153.5 151.7 L154 151.7 L154.5 151.8 L155 151.8 L155.5 151.8 L156 151.8 L156.5 151.8 L157 151.8 L157.5 151.7 L158 151.6 L158.5 151.5 L159 151.3 L159.5 151.1 L160 150.7 L160.5 150.2 L161 149.6 L161.5 148.7 L162 147.6 L162.5 146.2 L163 144.5 L163.5 142.4 L164 140.1 L164.5 137.5 L165 134.6 L165.5 131.7 L166 128.9 L166.5 126.3 L167 124.1 L167.5 122.6 L168 121.8 L168.5 121.8 L169 122.8 L169.5 124.4 L170 126.7 L170.5 129.3 L171 132.1 L171.5 134.9 L172 137.5 L172.5 139.9 L173 141.9 L173.5 143.4 L174 144.4 L174.5 144.8 L175 144.5 L175.5 143.5 L176 141.6 L176.5 138.9 L177 135.4 L177.5 131 L178 126 L178.5 120.5 L179 114.9 L179.5 109.5 L180 104.8 L180.5 101.2 L181 99 L181.5 98.6 L182 100 L182.5 102.9 L183 107.2 L183.5 112.4 L184 118 L184.5 123.7 L185 129.2 L185.5 134.1 L186 138.4 L186.5 141.9 L187 144.7 L187.5 146.9 L188 148.5 L188.5 149.6 L189 150.4 L189.5 150.9 L190 151.3 L190.5 151.5 L191 151.6 L191.5 151.7 L192 151.7 L192.5 151.8 L193 151.8 L193.5 151.8 L194 151.8 L194.5 151.8 L195 151.7 L195.5 151.7 L196 151.7 L196.5 151.7 L197 151.6 L197.5 151.6 L198 151.5 L198.5 151.4 L199 151.4 L199.5 151.3 L200 151.2 L200.5 151.1 L201 151 L201.5 150.8 L202 150.7 L202.5 150.5 L203 150.3 L203.5 150.1 L204 149.9 L204.5 149.6 L205 149.2 L205.5 148.8 L206 148.4 L206.5 147.8 L207 147.2 L207.5 146.4 L208 145.4 L208.5 144.3 L209 142.9 L209.5 141.1 L210 139 L210.5 136.5 L211 133.5 L211.5 130 L212 126.3 L212.5 122.6 L213 119.7 L213.5 118 L214 118.2 L214.5 120.1 L215 123.3 L215.5 127 L216 130.7 L216.5 134 L217 136.9 L217.5 139.4 L218 141.4 L218.5 143.1 L219 144.4 L219.5 145.5 L220 146.4 L220.5 147.2 L221 147.8 L221.5 148.3 L222 148.7 L222.5 149.1 L223 149.4 L223.5 149.7 L224 149.9 L224.5 150.1 L225 150.3 L225.5 150.4 L226 150.5 L226.5 150.6 L227 150.7 L227.5 150.8 L228 150.9 L228.5 150.9 L229 151 L229.5 151 L230 151 L230.5 151 L231 151 L231.5 151 L232 151 L232.5 150.9 L233 150.9 L233.5 150.8 L234 150.8 L234.5 150.7 L235 150.6 L235.5 150.5 L236 150.3 L236.5 150.2 L237 150 L237.5 149.8 L238 149.5 L238.5 149.2 L239 148.9 L239.5 148.5 L240 148.1 L240.5 147.6 L241 147.1 L241.5 146.5 L242 146 L242.5 145.4 L243 144.9 L243.5 144.5 L244 144.3 L244.5 144.2 L245 144.4 L245.5 144.6 L246 144.9 L246.5 145.2 L247 145.4 L247.5 145.3 L248 144.8 L248.5 143.8 L249 142.3 L249.5 140 L250 137.1 L250.5 133.5 L251 129.3 L251.5 125 L252 120.7 L252.5 117 L253 114.1 L253.5 112.5 L254 112.3 L254.5 113.6 L255 116.2 L255.5 119.8 L256 124.2 L256.5 128.8 L257 133.3 L257.5 137.5 L258 141.1 L258.5 144 L259 146.2 L259.5 147.9 L260 149 L260.5 149.8 L261 150.3 L261.5 150.6 L262 150.7 L262.5 150.8 L263 150.8 L263.5 150.8 L264 150.7 L264.5 150.6 L265 150.6 L265.5 150.5 L266 150.4 L266.5 150.3 L267 150.1 L267.5 150 L268 149.8 L268.5 149.6 L269 149.4 L269.5 149.1 L270 148.8 L270.5 148.4 L271 148 L271.5 147.4 L272 146.7 L272.5 145.8 L273 144.8 L273.5 143.6 L274 142.1 L274.5 140.3 L275 138.3 L275.5 135.9 L276 133.2 L276.5 130.2 L277 126.9 L277.5 123.3 L278 119.5 L278.5 115.7 L279 111.8 L279.5 108.2 L280 104.9 L280.5 102.2 L281 100.4 L281.5 99.5 L282 99.5 L282.5 100.6 L283 102.5 L283.5 105 L284 107.9 L284.5 111.1 L285 114.3 L285.5 117.5 L286 120.5 L286.5 123.4 L287 126 L287.5 128.4 L288 130.6 L288.5 132.6 L289 134.4 L289.5 136 L290 137.4 L290.5 138.8 L291 140 L291.5 141.1 L292 142.1 L292.5 143 L293 143.7 L293.5 144.4 L294 145 L294.5 145.4 L295 145.7 L295.5 145.8 L296 145.7 L296.5 145.3 L297 144.7 L297.5 143.8 L298 142.7 L298.5 141.5 L299 140.4 L299.5 139.7 L300 139.6 L300.5 140.2 L301 141.4 L301.5 142.8 L302 144.2 L302.5 145.5 L303 146.5 L303.5 147.1 L304 147.3 L304.5 147 L305 146.3 L305.5 145.2 L306 143.8 L306.5 142.2 L307 140.7 L307.5 139.4 L308 138.7 L308.5 138.7 L309 139.3 L309.5 140.5 L310 142 L310.5 143.8 L311 145.5 L311.5 147 L312 148.3 L312.5 149.2 L313 149.8 L313.5 150.2 L314 150.5 L314.5 150.6 L315 150.7 L315.5 150.7 L316 150.7 L316.5 150.7 L317 150.7 L317.5 150.6 L318 150.6 L318.5 150.6 L319 150.5 L319.5 150.5 L320 150.5 L320.5 150.4 L321 150.4 L321.5 150.3 L322 150.3 L322.5 150.3 L323 150.2 L323.5 150.1 L324 150.1 L324.5 150 L325 149.9 L325.5 149.9 L326 149.8 L326.5 149.7 L327 149.6 L327.5 149.5 L328 149.3 L328.5 149.2 L329 149.1 L329.5 148.9 L330 148.7 L330.5 148.5 L331 148.3 L331.5 148 L332 147.7 L332.5 147.4 L333 147.1 L333.5 146.7 L334 146.2 L334.5 145.7 L335 145.1 L335.5 144.5 L336 143.8 L336.5 143 L337 142.1 L337.5 141.1 L338 140.1 L338.5 139 L339 137.7 L339.5 136.4 L340 135 L340.5 133.5 L341 131.9 L341.5 130.2 L342 128.4 L342.5 126.5 L343 124.6 L343.5 122.6 L344 120.5 L344.5 118.5 L345 116.3 L345.5 114.2 L346 112 L346.5 109.8 L347 107.6 L347.5 105.4 L348 103.2 L348.5 101 L349 98.7 L349.5 96.4 L350 94.1 L350.5 91.6 L351 89 L351.5 86.2 L352 83.2 L352.5 79.8 L353 76.1 L353.5 71.9 L354 67.2 L354.5 62 L355 56.1 L355.5 49.7 L356 42.7 L356.5 35.5 L357 28.4 L357.5 21.8 L358 16.3 L358.5 12.4 L359 10.7 L359.5 11.2 L360 13.6 L360.5 17.4 L361 21.9 L361.5 26.4 L362 30.1 L362.5 32.9 L363 34.6 L363.5 35.5 L364 36.2 L364.5 37.4 L365 39.9 L365.5 44.4 L366 51 L366.5 59.2 L367 68.4 L367.5 77.7 L368 86.5 L368.5 94.4 L369 101.1 L369.5 106.4 L370 110.3 L370.5 112.7 L371 113.8 L371.5 113.4 L372 111.6 L372.5 108.6 L373 104.7 L373.5 100.7 L374 98.1 L374.5 97.7 L375 99.3 L375.5 101.6 L376 103.7 L376.5 104.9 L377 105.2 L377.5 104.7 L378 103.8 L378.5 102.6 L379 101.3 L379.5 100.2 L380 99.4 L380.5 99.2 L381 99.5 L381.5 100.5 L382 102.1 L382.5 104.2 L383 106.6 L383.5 109.4 L384 112.3 L384.5 115.1 L385 117.9 L385.5 120.5 L386 122.8 L386.5 124.9 L387 126.5 L387.5 127.9 L388 128.8 L388.5 129.3 L389 129.5 L389.5 129.2 L390 128.6 L390.5 127.5 L391 126.1 L391.5 124.2 L392 121.9 L392.5 119.2 L393 116.1 L393.5 112.7 L394 109.2 L394.5 105.7 L395 102.6 L395.5 100.2 L396 98.8 L396.5 98.6 L397 99.8 L397.5 102 L398 105 L398.5 108.4 L399 111.9 L399.5 115.3 L400 118.4 L400.5 121.2 L401 123.5 L401.5 125.5 L402 127.1 L402.5 128.3 L403 129.2 L403.5 129.7 L404 129.8 L404.5 129.6 L405 129.1 L405.5 128.2 L406 127.1 L406.5 125.9 L407 124.7 L407.5 123.8 L408 123.3 L408.5 123.5 L409 124.2 L409.5 125.3 L410 126.7 L410.5 128 L411 129.1 L411.5 130 L412 130.6 L412.5 131 L413 131.1 L413.5 131 L414 130.7 L414.5 130.3 L415 129.8 L415.5 129.4 L416 129 L416.5 128.7 L417 128.5 L417.5 128.2 L418 127.9 L418.5 127.6 L419 127.1 L419.5 126.5 L420 125.7 L420.5 124.8 L421 123.7 L421.5 122.5 L422 121.2 L422.5 119.9 L423 118.5 L423.5 117.2 L424 116 L424.5 114.9 L425 114.1 L425.5 113.5 L426 113.1 L426.5 113 L427 113 L427.5 113.2 L428 113.3 L428.5 113.4 L429 113.4 L429.5 113.2 L430 112.8 L430.5 112.1 L431 111.1 L431.5 109.8 L432 108.3 L432.5 106.5 L433 104.6 L433.5 102.5 L434 100.5 L434.5 98.4 L435 96.6 L435.5 95.1 L436 94 L436.5 93.4 L437 93.4 L437.5 94 L438 95.2 L438.5 97 L439 99.1 L439.5 101.6 L440 104.2 L440.5 106.9 L441 109.5 L441.5 112.1 L442 114.4 L442.5 116.6 L443 118.4 L443.5 120 L444 121.2 L444.5 122.1 L445 122.7 L445.5 122.9 L446 122.9 L446.5 122.5 L447 121.8 L447.5 121 L448 120 L448.5 119 L449 117.9 L449.5 116.9 L450 116 L450.5 115.3 L451 114.7 L451.5 114.2 L452 113.7 L452.5 113.2 L453 112.7 L453.5 112.1 L454 111.4 L454.5 110.6 L455 109.7 L455.5 108.7 L456 107.7 L456.5 106.6 L457 105.6 L457.5 104.6 L458 103.7 L458.5 103 L459 102.5 L459.5 102.2 L460 102.2 L460.5 102.4 L461 102.9 L461.5 103.7 L462 104.7 L462.5 106 L463 107.4 L463.5 109 L464 110.7 L464.5 112.5 L465 114.3 L465.5 116 L466 117.8 L466.5 119.4 L467 120.8 L467.5 122.1 L468 123.1 L468.5 123.9 L469 124.2 L469.5 124.1 L470 123.5 L470.5 122.4 L471 120.5 L471.5 118.1 L472 114.8 L472.5 110.9 L473 106.3 L473.5 101.1 L474 95.4 L474.5 89.4 L475 83.3 L475.5 77.4 L476 71.9 L476.5 67.2 L477 63.6 L477.5 61.4 L478 60.9 L478.5 62 L479 64.8 L479.5 69 L480 74.3 L480.5 80.5 L481 87.2 L481.5 94.2 L482 101.1 L482.5 107.7 L483 114 L483.5 119.7 L484 124.8 L484.5 129.2 L485 133.1 L485.5 136.3 L486 139 L486.5 141.2 L487 142.9 L487.5 144.3 L488 145.4 L488.5 146.3 L489 147 L489.5 147.6 L490 148 L490.5 148.3 L491 148.6 L491.5 148.9 L492 149.1 L492.5 149.3 L493 149.5 L493.5 149.6 L494 149.8 L494.5 149.9 L495 150 L495.5 150.1 L496 150.2 L496.5 150.3 L497 150.4 L497.5 150.5 L498 150.6 L498.5 150.7 L499 150.7 L499.5 150.8 L500 150.9 L500.5 150.9 L501 151 L501.5 151.1 L502 151.1 L502.5 151.2 L503 151.2 L503.5 151.3 L504 151.3 L504.5 151.4 L505 151.4 L505.5 151.5 L506 151.5" fill="none" stroke="#8a3ce0" stroke-width="1.6"/>
<path d="M97.5 151.3 L98.2 149.4 L98.9 150.2 L99.6 149.5 L100.3 149 L101 148.6 L101.7 147.2 L102.4 147 L103.1 145.6 L103.8 145.7 L104.5 143.1 L105.2 140.9 L105.9 138.8 L106.6 136.2 L107.3 133.5 L108 131.2 L108.7 129.3 L109.4 127.2 L110.1 126.5 L110.8 125.6 L111.5 125.5 L112.2 125.9 L112.9 125.1 L113.6 124 L114.3 123.2 L115 123.2 L115.7 125.1 L116.4 127.4 L117.1 131.4 L117.8 136 L118.5 139.1 L119.2 142.3 L119.9 145 L120.6 146.6 L121.3 147.6 L122 148.7 L122.7 148 L123.4 149.8 L124.1 149.5 L124.8 149.5 L125.5 150.4 L126.2 150.7 L126.9 150.5 L127.6 150.4 L128.3 150.9 L129 150.9 L129.7 151.5 L130.4 151.3 L131.1 151.2 L131.8 151.5 L132.5 151.1 L133.2 150.8 L133.9 151.4 L134.6 151.3 L135.3 151 L136 150.6 L136.7 150.8 L137.4 149.5 L138.1 150.1 L138.8 149.3 L139.5 147.5 L140.2 146.7 L140.9 144.6 L141.6 143.1 L142.3 140 L143 138.4 L143.7 137.5 L144.4 137 L145.1 136.3 L145.8 138.3 L146.5 140.5 L147.2 142.4 L147.9 145.2 L148.6 146 L149.3 148 L150 148.7 L150.7 150.3 L151.4 150.4 L152.1 150.6 L152.8 150.3 L153.5 151.7 L154.2 151.4 L154.9 151.5 L155.6 151.6 L156.3 151.3 L157 150.9 L157.7 150.8 L158.4 150.6 L159.1 151.2 L159.8 149.8 L160.5 149.4 L161.2 148.5 L161.9 147.3 L162.6 145.5 L163.3 142.2 L164 138.9 L164.7 135.7 L165.4 132.2 L166.1 128.1 L166.8 124.5 L167.5 121.9 L168.2 121.3 L168.9 121.9 L169.6 124.6 L170.3 127.3 L171 131.5 L171.7 135.3 L172.4 139 L173.1 141.7 L173.8 144.3 L174.5 144.8 L175.2 144 L175.9 140.7 L176.6 137.5 L177.3 132 L178 125.6 L178.7 116.9 L179.4 110.4 L180.1 103.8 L180.8 98.8 L181.5 97.7 L182.2 100.3 L182.9 105.7 L183.6 113.1 L184.3 121.5 L185 128.5 L185.7 135.5 L186.4 140.6 L187.1 145.2 L187.8 147.5 L188.5 149.5 L189.2 149.6 L189.9 150.5 L190.6 150.6 L191.3 151.6 L192 151.4 L192.7 151.1 L193.4 151 L194.1 151.3 L194.8 150.9 L195.5 150.8 L196.2 151.2 L196.9 151.9 L197.6 150.9 L198.3 150.7 L199 150.4 L199.7 150.2 L200.4 150.7 L201.1 150.6 L201.8 150.2 L202.5 150 L203.2 149.7 L203.9 149.4 L204.6 148.4 L205.3 148.2 L206 147.8 L206.7 146.7 L207.4 145.8 L208.1 144.3 L208.8 142.7 L209.5 140.8 L210.2 137.3 L210.9 133.4 L211.6 128.9 L212.3 123.7 L213 119.6 L213.7 116.8 L214.4 119.5 L215.1 123.3 L215.8 128.7 L216.5 133.7 L217.2 137.7 L217.9 140.8 L218.6 142.8 L219.3 145 L220 145.7 L220.7 146.8 L221.4 147.9 L222.1 148 L222.8 149.4 L223.5 149.4 L224.2 150.1 L224.9 149.6 L225.6 149.7 L226.3 150 L227 150.4 L227.7 150 L228.4 150.4 L229.1 150.4 L229.8 151 L230.5 150.2 L231.2 150.8 L231.9 150.2 L232.6 150 L233.3 150 L234 149.8 L234.7 150.1 L235.4 150.3 L236.1 149.8 L236.8 149.7 L237.5 149.7 L238.2 148.9 L238.9 148.4 L239.6 147.7 L240.3 146.6 L241 146.8 L241.7 145.1 L242.4 145.1 L243.1 144.2 L243.8 144.2 L244.5 143.6 L245.2 143.6 L245.9 144.4 L246.6 144.4 L247.3 144.6 L248 144.2 L248.7 142.6 L249.4 139.8 L250.1 135.5 L250.8 130.3 L251.5 123.6 L252.2 118.6 L252.9 113.7 L253.6 112.3 L254.3 112.9 L255 114.9 L255.7 121 L256.4 127.2 L257.1 133.2 L257.8 139.2 L258.5 143.2 L259.2 145.7 L259.9 148.1 L260.6 149.2 L261.3 149.9 L262 149.7 L262.7 150.4 L263.4 150.4 L264.1 149.7 L264.8 149.8 L265.5 149.8 L266.2 149.5 L266.9 150.2 L267.6 149.4 L268.3 148.7 L269 148.5 L269.7 148.4 L270.4 148.7 L271.1 147.2 L271.8 146.4 L272.5 145.4 L273.2 143.7 L273.9 142.6 L274.6 139.1 L275.3 136.5 L276 132.7 L276.7 128.5 L277.4 123 L278.1 118.8 L278.8 112.7 L279.5 107.6 L280.2 102.9 L280.9 99.9 L281.6 99.1 L282.3 99.9 L283 102.1 L283.7 106 L284.4 110.1 L285.1 114.4 L285.8 119 L286.5 123 L287.2 126.3 L287.9 129.8 L288.6 132.8 L289.3 134.8 L290 136.7 L290.7 138.9 L291.4 140.9 L292.1 141.6 L292.8 142.8 L293.5 143.8 L294.2 145 L294.9 144.4 L295.6 145.3 L296.3 145.3 L297 143.8 L297.7 143.3 L298.4 141.3 L299.1 139.5 L299.8 139.1 L300.5 139.1 L301.2 141.2 L301.9 144 L302.6 144.8 L303.3 146.9 L304 146.7 L304.7 146.5 L305.4 144.8 L306.1 142.1 L306.8 140.5 L307.5 138.9 L308.2 137.7 L308.9 138.1 L309.6 140.3 L310.3 142.3 L311 144.3 L311.7 146.7 L312.4 148.7 L313.1 149.1 L313.8 150.1 L314.5 150.5 L315.2 150.1 L315.9 149.7 L316.6 149.6 L317.3 150 L318 150.3 L318.7 150.1 L319.4 150.1 L320.1 149.7 L320.8 149.9 L321.5 149.6 L322.2 149.6 L322.9 149.2 L323.6 149 L324.3 149.3 L325 148.9 L325.7 148.9 L326.4 149.3 L327.1 148.9 L327.8 149.8 L328.5 148.9 L329.2 148.2 L329.9 148.4 L330.6 148 L331.3 147.3 L332 147.5 L332.7 146.4 L333.4 145.1 L334.1 145.8 L334.8 144.5 L335.5 144.4 L336.2 142.6 L336.9 141.3 L337.6 140.9 L338.3 138.4 L339 137.2 L339.7 135.7 L340.4 133.2 L341.1 130.9 L341.8 128.5 L342.5 126.2 L343.2 122.9 L343.9 120.6 L344.6 117.6 L345.3 115.3 L346 111.3 L346.7 108 L347.4 105.5 L348.1 102 L348.8 99.1 L349.5 95.9 L350.2 92.9 L350.9 88.7 L351.6 85 L352.3 79.7 L353 75.2 L353.7 70 L354.4 62.2 L355.1 54 L355.8 44.5 L356.5 35.1 L357.2 25.2 L357.9 16.4 L358.6 11.7 L359.3 10.5 L360 13.3 L360.7 18.4 L361.4 25.5 L362.1 30.2 L362.8 33.3 L363.5 34.8 L364.2 36 L364.9 39.1 L365.6 45.1 L366.3 55.7 L367 68 L367.7 81.1 L368.4 92.5 L369.1 101.6 L369.8 107.5 L370.5 112.3 L371.2 113.3 L371.9 111.4 L372.6 107.4 L373.3 101.5 L374 97.4 L374.7 97.4 L375.4 101.1 L376.1 103.4 L376.8 104.3 L377.5 103.7 L378.2 102.7 L378.9 101.5 L379.6 99.6 L380.3 98.4 L381 99.4 L381.7 101 L382.4 103.5 L383.1 106.9 L383.8 110.9 L384.5 114.7 L385.2 118.6 L385.9 121.5 L386.6 125.1 L387.3 126.8 L388 128.9 L388.7 128.1 L389.4 128.9 L390.1 128.1 L390.8 125.9 L391.5 123.7 L392.2 120.5 L392.9 116.3 L393.6 111.2 L394.3 106.4 L395 102.3 L395.7 99.5 L396.4 98.1 L397.1 99.6 L397.8 103.2 L398.5 108.1 L399.2 112.3 L399.9 116.7 L400.6 121.1 L401.3 123.7 L402 126.3 L402.7 128.1 L403.4 129.1 L404.1 128.8 L404.8 129 L405.5 127 L406.2 126.2 L406.9 123.8 L407.6 122.7 L408.3 123.1 L409 123.5 L409.7 125 L410.4 126.9 L411.1 128.8 L411.8 129.7 L412.5 130.4 L413.2 130.8 L413.9 129.9 L414.6 129.4 L415.3 128.8 L416 128.8 L416.7 128.4 L417.4 128.1 L418.1 127.3 L418.8 126.7 L419.5 126.2 L420.2 124.6 L420.9 123.6 L421.6 121.9 L422.3 119.6 L423 117.9 L423.7 116 L424.4 115.1 L425.1 114.3 L425.8 112.6 L426.5 112.4 L427.2 111.7 L427.9 112.8 L428.6 112.8 L429.3 112.3 L430 112.5 L430.7 110.5 L431.4 109.4 L432.1 107.4 L432.8 104.3 L433.5 102.2 L434.2 99.4 L434.9 95.9 L435.6 93.8 L436.3 93.2 L437 92.8 L437.7 93.5 L438.4 95.9 L439.1 99 L439.8 102.5 L440.5 106.5 L441.2 110.1 L441.9 114 L442.6 116.8 L443.3 119 L444 121 L444.7 122.2 L445.4 122.5 L446.1 121.8 L446.8 121.8 L447.5 120.4 L448.2 119.6 L448.9 117.5 L449.6 116.3 L450.3 115.1 L451 114.7 L451.7 113.5 L452.4 112.6 L453.1 112.1 L453.8 110.9 L454.5 110.1 L455.2 108.7 L455.9 107.4 L456.6 106.5 L457.3 104.2 L458 103.1 L458.7 102.1 L459.4 101.9 L460.1 101.2 L460.8 101.9 L461.5 103.1 L462.2 104.8 L462.9 106.5 L463.6 108.6 L464.3 110.9 L465 113.9 L465.7 116.6 L466.4 118.6 L467.1 120.6 L467.8 122.3 L468.5 122.9 L469.2 123.5 L469.9 122.9 L470.6 121.5 L471.3 118.4 L472 113.8 L472.7 108.9 L473.4 102.1 L474.1 93.5 L474.8 85.3 L475.5 76.8 L476.2 69.7 L476.9 63.2 L477.6 61.3 L478.3 60.8 L479 64.6 L479.7 70.6 L480.4 78.6 L481.1 88 L481.8 98 L482.5 106.8 L483.2 115.5 L483.9 123 L484.6 128.8 L485.3 134.9 L486 138.6 L486.7 141.3 L487.4 143.9 L488.1 144.7 L488.8 146.1 L489.5 147.6 L490.2 147.9 L490.9 147.2 L491.6 147.2 L492.3 148.3 L493 149.2 L493.7 148.9 L494.4 149.2 L495.1 149.6 L495.8 149.3 L496.5 149.8 L497.2 150.1 L497.9 150.1 L498.6 150.2 L499.3 150 L500 150.5 L500.7 150.2 L501.4 150.9 L502.1 151.4 L502.8 150.4 L503.5 149.9 L504.2 150.6 L504.9 150.9 L505.6 151.2" fill="none" stroke="#23236e" stroke-width="1.8" stroke-linecap="round" stroke-dasharray="0.1 1.9" opacity="0.95"/>
<rect x="96.5" y="1.6" width="410" height="156.8" fill="none" stroke="#5a5a5a" stroke-width="1.5"/>
<path d="M100.7 158.4 V154.9 M151.4 158.4 V156.4 M202 158.4 V154.9 M252.7 158.4 V156.4 M303.4 158.4 V154.9 M354 158.4 V156.4 M404.7 158.4 V154.9 M455.4 158.4 V156.4 M506 158.4 V154.9 M96.5 20.2 H99.5 M96.5 39.5 H99.5 M96.5 58.8 H99.5 M96.5 78.1 H99.5 M96.5 97.4 H99.5 M96.5 116.7 H99.5 M96.5 136 H99.5" stroke="#404040" stroke-width="1"/>
<text x="100.7" y="170" text-anchor="middle" style='font-family:"Liberation Serif",serif;font-weight:bold;stroke:currentColor;stroke-width:0.25px;font-size:9.3px' fill="#111" color="#111">100</text>
<text x="202" y="170" text-anchor="middle" style='font-family:"Liberation Serif",serif;font-weight:bold;stroke:currentColor;stroke-width:0.25px;font-size:9.3px' fill="#111" color="#111">200</text>
<text x="303.4" y="170" text-anchor="middle" style='font-family:"Liberation Serif",serif;font-weight:bold;stroke:currentColor;stroke-width:0.25px;font-size:9.3px' fill="#111" color="#111">300</text>
<text x="404.7" y="170" text-anchor="middle" style='font-family:"Liberation Serif",serif;font-weight:bold;stroke:currentColor;stroke-width:0.25px;font-size:9.3px' fill="#111" color="#111">400</text>
<text x="506" y="170" text-anchor="middle" style='font-family:"Liberation Serif",serif;font-weight:bold;stroke:currentColor;stroke-width:0.25px;font-size:9.3px' fill="#111" color="#111">500</text>
<text x="301" y="185.5" text-anchor="middle" style='font-family:"Liberation Serif",serif;font-weight:bold;stroke:currentColor;stroke-width:0.25px;font-size:9.8px' fill="#111" color="#111">Raman shift (cm<tspan dy="-4" font-size="7">-1</tspan><tspan dy="4">)</tspan></text>
<text transform="translate(90,86) rotate(-90)" text-anchor="middle" style='font-family:"Liberation Serif",serif;font-weight:bold;stroke:currentColor;stroke-width:0.25px;font-size:10.3px' fill="#111" color="#111">Intensity (a.u.)</text>
<circle cx="471" cy="10.5" r="1.3" fill="#111"/>
<text x="480" y="14.3" style='font-family:"Liberation Serif",serif;font-weight:bold;stroke:currentColor;stroke-width:0.25px;font-size:9.8px' fill="#111" color="#111">Data</text>
<text x="109.6" y="122.5" text-anchor="middle" style='font-family:"Liberation Serif",serif;font-weight:bold;stroke:currentColor;stroke-width:0.25px;font-size:7.6px' fill="#2a2ab8" color="#2a2ab8">R1</text>
<text x="120.7" y="124.5" text-anchor="middle" style='font-family:"Liberation Serif",serif;font-weight:bold;stroke:currentColor;stroke-width:0.25px;font-size:7.6px' fill="#2a2ab8" color="#2a2ab8">R2</text>
<text x="146.6" y="134" text-anchor="middle" style='font-family:"Liberation Serif",serif;font-weight:bold;stroke:currentColor;stroke-width:0.25px;font-size:7.6px' fill="#2a2ab8" color="#2a2ab8">R3</text>
<text x="169.3" y="118" text-anchor="middle" style='font-family:"Liberation Serif",serif;font-weight:bold;stroke:currentColor;stroke-width:0.25px;font-size:7.6px' fill="#2a2ab8" color="#2a2ab8">R4</text>
<text x="182.4" y="94" text-anchor="middle" style='font-family:"Liberation Serif",serif;font-weight:bold;stroke:currentColor;stroke-width:0.25px;font-size:7.6px' fill="#2a2ab8" color="#2a2ab8">R5</text>
<text x="215.8" y="114.6" text-anchor="middle" style='font-family:"Liberation Serif",serif;font-weight:bold;stroke:currentColor;stroke-width:0.25px;font-size:7.6px' fill="#2a2ab8" color="#2a2ab8">R6</text>
<text x="245.2" y="139.8" text-anchor="middle" style='font-family:"Liberation Serif",serif;font-weight:bold;stroke:currentColor;stroke-width:0.25px;font-size:7.6px' fill="#2a2ab8" color="#2a2ab8">R7</text>
<text x="255.3" y="108.2" text-anchor="middle" style='font-family:"Liberation Serif",serif;font-weight:bold;stroke:currentColor;stroke-width:0.25px;font-size:7.6px' fill="#2a2ab8" color="#2a2ab8">R8</text>
<text x="283" y="95" text-anchor="middle" style='font-family:"Liberation Serif",serif;font-weight:bold;stroke:currentColor;stroke-width:0.25px;font-size:7.6px' fill="#2a2ab8" color="#2a2ab8">R9</text>
<text x="293.7" y="124.7" text-anchor="middle" style='font-family:"Liberation Serif",serif;font-weight:bold;stroke:currentColor;stroke-width:0.25px;font-size:7.6px' fill="#2a2ab8" color="#2a2ab8">R10</text>
<text x="300.5" y="135.8" text-anchor="middle" style='font-family:"Liberation Serif",serif;font-weight:bold;stroke:currentColor;stroke-width:0.25px;font-size:7.6px' fill="#2a2ab8" color="#2a2ab8">R11</text>
<text x="317" y="141.2" text-anchor="middle" style='font-family:"Liberation Serif",serif;font-weight:bold;stroke:currentColor;stroke-width:0.25px;font-size:7.6px' fill="#2a2ab8" color="#2a2ab8">R12</text>
<text x="349" y="30.3" text-anchor="middle" style='font-family:"Liberation Serif",serif;font-weight:bold;stroke:currentColor;stroke-width:0.25px;font-size:7.6px' fill="#2a2ab8" color="#2a2ab8">R13</text>
<text x="373" y="29.5" text-anchor="middle" style='font-family:"Liberation Serif",serif;font-weight:bold;stroke:currentColor;stroke-width:0.25px;font-size:7.6px' fill="#2a2ab8" color="#2a2ab8">R14</text>
<text x="376.7" y="83.3" text-anchor="middle" style='font-family:"Liberation Serif",serif;font-weight:bold;stroke:currentColor;stroke-width:0.25px;font-size:7.6px' fill="#2a2ab8" color="#2a2ab8">R15</text>
<text x="382.5" y="93" text-anchor="middle" style='font-family:"Liberation Serif",serif;font-weight:bold;stroke:currentColor;stroke-width:0.25px;font-size:7.6px' fill="#2a2ab8" color="#2a2ab8">R16</text>
<text x="398" y="95" text-anchor="middle" style='font-family:"Liberation Serif",serif;font-weight:bold;stroke:currentColor;stroke-width:0.25px;font-size:7.6px' fill="#2a2ab8" color="#2a2ab8">R17</text>
<text x="408.8" y="116.5" text-anchor="middle" style='font-family:"Liberation Serif",serif;font-weight:bold;stroke:currentColor;stroke-width:0.25px;font-size:7.6px' fill="#2a2ab8" color="#2a2ab8">R18</text>
<text x="415.2" y="123" text-anchor="middle" style='font-family:"Liberation Serif",serif;font-weight:bold;stroke:currentColor;stroke-width:0.25px;font-size:7.6px' fill="#2a2ab8" color="#2a2ab8">R19</text>
<text x="425" y="106" text-anchor="middle" style='font-family:"Liberation Serif",serif;font-weight:bold;stroke:currentColor;stroke-width:0.25px;font-size:7.6px' fill="#2a2ab8" color="#2a2ab8">R20</text>
<text x="437.8" y="87.2" text-anchor="middle" style='font-family:"Liberation Serif",serif;font-weight:bold;stroke:currentColor;stroke-width:0.25px;font-size:7.6px' fill="#2a2ab8" color="#2a2ab8">R21</text>
<text x="448.6" y="108.6" text-anchor="middle" style='font-family:"Liberation Serif",serif;font-weight:bold;stroke:currentColor;stroke-width:0.25px;font-size:7.6px' fill="#2a2ab8" color="#2a2ab8">R22</text>
<text x="458.8" y="93" text-anchor="middle" style='font-family:"Liberation Serif",serif;font-weight:bold;stroke:currentColor;stroke-width:0.25px;font-size:7.6px' fill="#2a2ab8" color="#2a2ab8">R23</text>
<text x="479" y="55.3" text-anchor="middle" style='font-family:"Liberation Serif",serif;font-weight:bold;stroke:currentColor;stroke-width:0.25px;font-size:7.6px' fill="#2a2ab8" color="#2a2ab8">R24</text>
<rect x="100.3" y="3.3" width="192.6" height="59.3" fill="#fff" stroke="#404040" stroke-width="1.1"/>
<path d="M104.7 62.6 V59.6 M129 62.6 V60.8 M153.3 62.6 V59.6 M177.6 62.6 V60.8 M201.9 62.6 V59.6 M226.2 62.6 V60.8 M250.5 62.6 V59.6 M274.8 62.6 V60.8" stroke="#404040" stroke-width="0.9"/>
<text x="104.7" y="73" text-anchor="middle" style='font-family:"Liberation Serif",serif;font-weight:bold;stroke:currentColor;stroke-width:0.25px;font-size:8.3px' fill="#111" color="#111">100</text>
<text x="153.3" y="73" text-anchor="middle" style='font-family:"Liberation Serif",serif;font-weight:bold;stroke:currentColor;stroke-width:0.25px;font-size:8.3px' fill="#111" color="#111">200</text>
<text x="201.9" y="73" text-anchor="middle" style='font-family:"Liberation Serif",serif;font-weight:bold;stroke:currentColor;stroke-width:0.25px;font-size:8.3px' fill="#111" color="#111">300</text>
<text x="250.5" y="73" text-anchor="middle" style='font-family:"Liberation Serif",serif;font-weight:bold;stroke:currentColor;stroke-width:0.25px;font-size:8.3px' fill="#111" color="#111">400</text>
<text x="166" y="81" style='font-family:"Liberation Serif",serif;font-weight:bold;stroke:currentColor;stroke-width:0.25px;font-size:8px' fill="#111" color="#111">Wavenumber (cm<tspan dy="-3.5" font-size="6.5">-1</tspan><tspan dy="3.5">)</tspan></text>
<rect x="152.2" y="11.3" width="2" height="2" fill="#d03030"/>
<text x="164.7" y="15.3" style='font-family:"Liberation Serif",serif;font-weight:bold;stroke:currentColor;stroke-width:0.25px;font-size:8px' fill="#111" color="#111">Experiment</text>
<rect x="213.8" y="11.3" width="2" height="2" fill="#3030c0"/>
<text x="225.9" y="15.3" style='font-family:"Liberation Serif",serif;font-weight:bold;stroke:currentColor;stroke-width:0.25px;font-size:8px' fill="#111" color="#111">Theory</text>
<path d="M107.9 25.2h2v2h-2zM110.2 25.2h2v2h-2zM124.9 25.2h2v2h-2zM136.2 25.2h2v2h-2zM142.5 25.2h2v2h-2zM157.8 25.2h2v2h-2zM172.5 25.2h2v2h-2zM177.2 25.2h2v2h-2zM190.5 25.2h2v2h-2zM193.1 25.2h2v2h-2zM198.9 25.2h2v2h-2zM203.2 25.2h2v2h-2zM226.6 25.2h2v2h-2zM230.2 25.2h2v2h-2zM233.7 25.2h2v2h-2zM237.2 25.2h2v2h-2zM245.1 25.2h2v2h-2zM249.6 25.2h2v2h-2zM254 25.2h2v2h-2zM259.3 25.2h2v2h-2zM264.5 25.2h2v2h-2zM270.2 25.2h2v2h-2zM275.1 25.2h2v2h-2zM284.3 25.2h2v2h-2z" fill="#c83838"/>
<path d="M106.2 47h2v2h-2zM110.8 47h2v2h-2zM123.5 47h2v2h-2zM125.2 47h2v2h-2zM134 47h2v2h-2zM136.2 47h2v2h-2zM138.4 47h2v2h-2zM142 47h2v2h-2zM154.3 47h2v2h-2zM157 47h2v2h-2zM165.8 47h2v2h-2zM170.7 47h2v2h-2zM172 47h2v2h-2zM175.5 47h2v2h-2zM183.4 47h2v2h-2zM186.9 47h2v2h-2zM188.7 47h2v2h-2zM193.6 47h2v2h-2zM194.9 47h2v2h-2zM200.2 47h2v2h-2zM203.7 47h2v2h-2zM218.7 47h2v2h-2zM220.5 47h2v2h-2zM223.1 47h2v2h-2zM224.9 47h2v2h-2zM230.2 47h2v2h-2zM231.9 47h2v2h-2zM237.2 47h2v2h-2zM239.9 47h2v2h-2zM241.6 47h2v2h-2zM246 47h2v2h-2zM248.7 47h2v2h-2zM251.3 47h2v2h-2zM254 47h2v2h-2zM255.7 47h2v2h-2zM257.5 47h2v2h-2zM260.1 47h2v2h-2zM261.9 47h2v2h-2zM265.4 47h2v2h-2zM268.1 47h2v2h-2zM271.6 47h2v2h-2zM275.1 47h2v2h-2zM276.9 47h2v2h-2zM282.2 47h2v2h-2zM284.3 47h2v2h-2z" fill="#3535b8"/>
<path d="M62 398.9 L62.5 398.9 L63 398.9 L63.5 398.8 L64 398.8 L64.5 398.8 L65 398.8 L65.5 398.8 L66 398.7 L66.5 398.7 L67 398.6 L67.5 398.6 L68 398.5 L68.5 398.4 L69 398.3 L69.5 398.2 L70 398.1 L70.5 398 L71 397.8 L71.5 397.7 L72 397.5 L72.5 397.3 L73 397.1 L73.5 396.9 L74 396.7 L74.5 396.4 L75 396.2 L75.5 395.9 L76 395.7 L76.5 395.5 L77 395.3 L77.5 395.1 L78 395 L78.5 395 L79 395 L79.5 395.1 L80 395.2 L80.5 395.4 L81 395.6 L81.5 395.8 L82 396.1 L82.5 396.3 L83 396.6 L83.5 396.8 L84 397 L84.5 397.2 L85 397.4 L85.5 397.6 L86 397.8 L86.5 397.9 L87 398.1 L87.5 398.2 L88 398.3 L88.5 398.4 L89 398.5 L89.5 398.6 L90 398.6 L90.5 398.7 L91 398.7 L91.5 398.7 L92 398.8 L92.5 398.8 L93 398.8 L93.5 398.8 L94 398.9 L94.5 398.9 L95 398.9" fill="none" stroke="#b07a90" stroke-width="1.1"/>
<path d="M80 398.3 L80.5 398.3 L81 398.2 L81.5 398.1 L82 397.9 L82.5 397.8 L83 397.6 L83.5 397.4 L84 397.1 L84.5 396.8 L85 396.4 L85.5 395.9 L86 395.4 L86.5 394.8 L87 394.1 L87.5 393.4 L88 392.5 L88.5 391.6 L89 390.6 L89.5 389.5 L90 388.4 L90.5 387.2 L91 386 L91.5 384.7 L92 383.5 L92.5 382.4 L93 381.4 L93.5 380.7 L94 380.2 L94.5 380 L95 380.2 L95.5 380.7 L96 381.4 L96.5 382.4 L97 383.5 L97.5 384.7 L98 386 L98.5 387.2 L99 388.4 L99.5 389.5 L100 390.6 L100.5 391.6 L101 392.5 L101.5 393.4 L102 394.1 L102.5 394.8 L103 395.4 L103.5 395.9 L104 396.4 L104.5 396.8 L105 397.1 L105.5 397.4 L106 397.6 L106.5 397.8 L107 397.9 L107.5 398.1 L108 398.2 L108.5 398.3 L109 398.3 L109.5 398.4 L110 398.4" fill="none" stroke="#c8a474" stroke-width="1.1"/>
<path d="M92 397.7 L92.5 397.6 L93 397.5 L93.5 397.4 L94 397.2 L94.5 397 L95 396.8 L95.5 396.6 L96 396.3 L96.5 395.9 L97 395.4 L97.5 394.9 L98 394.3 L98.5 393.6 L99 392.7 L99.5 391.8 L100 390.7 L100.5 389.4 L101 387.9 L101.5 386.3 L102 384.5 L102.5 382.6 L103 380.4 L103.5 378.1 L104 375.7 L104.5 373.1 L105 370.3 L105.5 367.6 L106 364.7 L106.5 361.9 L107 359.2 L107.5 356.7 L108 354.5 L108.5 352.7 L109 351.5 L109.5 351 L110 351.2 L110.5 352.2 L111 353.7 L111.5 355.8 L112 358.2 L112.5 360.8 L113 363.6 L113.5 366.4 L114 369.2 L114.5 372 L115 374.6 L115.5 377.1 L116 379.5 L116.5 381.7 L117 383.8 L117.5 385.6 L118 387.3 L118.5 388.8 L119 390.2 L119.5 391.3 L120 392.4 L120.5 393.3 L121 394 L121.5 394.7 L122 395.2 L122.5 395.7 L123 396.1 L123.5 396.4 L124 396.7 L124.5 397 L125 397.1 L125.5 397.3 L126 397.4" fill="none" stroke="#d4c448" stroke-width="1.1"/>
<path d="M112 390.9 L112.5 389.8 L113 388.5 L113.5 387 L114 385.3 L114.5 383.4 L115 381.3 L115.5 378.9 L116 376.3 L116.5 373.5 L117 370.4 L117.5 367.1 L118 363.6 L118.5 359.9 L119 356 L119.5 352 L120 347.9 L120.5 343.8 L121 339.7 L121.5 335.8 L122 332.1 L122.5 328.9 L123 326.2 L123.5 324.2 L124 323.2 L124.5 323.1 L125 324 L125.5 325.7 L126 328.3 L126.5 331.4 L127 335 L127.5 338.9 L128 343 L128.5 347.1 L129 351.2 L129.5 355.2 L130 359.1 L130.5 362.9 L131 366.4 L131.5 369.8 L132 372.9 L132.5 375.8 L133 378.4 L133.5 380.8 L134 383 L134.5 384.9 L135 386.7 L135.5 388.2 L136 389.6 L136.5 390.7 L137 391.7 L137.5 392.6 L138 393.4" fill="none" stroke="#e4dc3c" stroke-width="1.1"/>
<path d="M116 395.6 L116.5 395.4 L117 395.2 L117.5 394.9 L118 394.7 L118.5 394.4 L119 394 L119.5 393.7 L120 393.2 L120.5 392.7 L121 392.1 L121.5 391.4 L122 390.7 L122.5 389.8 L123 388.7 L123.5 387.6 L124 386.2 L124.5 384.7 L125 383 L125.5 381 L126 378.8 L126.5 376.4 L127 373.7 L127.5 370.7 L128 367.3 L128.5 363.7 L129 359.8 L129.5 355.6 L130 351 L130.5 346.1 L131 341 L131.5 335.5 L132 329.9 L132.5 323.9 L133 317.8 L133.5 311.6 L134 305.2 L134.5 298.9 L135 292.6 L135.5 286.5 L136 280.8 L136.5 275.5 L137 271 L137.5 267.3 L138 264.7 L138.5 263.2 L139 263.1 L139.5 264.3 L140 266.7 L140.5 270.1 L141 274.6 L141.5 279.7 L142 285.3 L142.5 291.4 L143 297.6 L143.5 304 L144 310.3 L144.5 316.6 L145 322.7 L145.5 328.7 L146 334.4 L146.5 339.9 L147 345.1 L147.5 350.1 L148 354.7 L148.5 359 L149 363 L149.5 366.7 L150 370 L150.5 373.1 L151 375.9 L151.5 378.4 L152 380.6 L152.5 382.6 L153 384.4 L153.5 385.9 L154 387.3 L154.5 388.5 L155 389.6 L155.5 390.5 L156 391.3 L156.5 392 L157 392.6 L157.5 393.1 L158 393.6 L158.5 394 L159 394.3 L159.5 394.6 L160 394.9" fill="none" stroke="#e0dc30" stroke-width="1.1"/>
<path d="M130 396.8 L130.5 396.7 L131 396.6 L131.5 396.4 L132 396.3 L132.5 396.1 L133 395.9 L133.5 395.6 L134 395.4 L134.5 395.1 L135 394.7 L135.5 394.3 L136 393.7 L136.5 393.1 L137 392.4 L137.5 391.6 L138 390.5 L138.5 389.3 L139 387.9 L139.5 386.3 L140 384.4 L140.5 382.3 L141 379.8 L141.5 377 L142 373.8 L142.5 370.3 L143 366.4 L143.5 362.1 L144 357.5 L144.5 352.5 L145 347.2 L145.5 341.6 L146 335.7 L146.5 329.7 L147 323.5 L147.5 317.3 L148 311.2 L148.5 305.4 L149 300.1 L149.5 295.5 L150 292 L150.5 289.8 L151 289 L151.5 289.8 L152 292 L152.5 295.5 L153 300.1 L153.5 305.4 L154 311.2 L154.5 317.3 L155 323.5 L155.5 329.7 L156 335.7 L156.5 341.6 L157 347.2 L157.5 352.5 L158 357.5 L158.5 362.1 L159 366.4 L159.5 370.3 L160 373.8 L160.5 377 L161 379.8 L161.5 382.3 L162 384.4 L162.5 386.3 L163 387.9 L163.5 389.3 L164 390.5 L164.5 391.6 L165 392.4" fill="none" stroke="#a8a478" stroke-width="1.1"/>
<path d="M144 397.9 L144.5 397.8 L145 397.7 L145.5 397.6 L146 397.5 L146.5 397.4 L147 397.3 L147.5 397.1 L148 396.9 L148.5 396.7 L149 396.4 L149.5 396.1 L150 395.7 L150.5 395.2 L151 394.6 L151.5 394 L152 393.2 L152.5 392.3 L153 391.3 L153.5 390.1 L154 388.7 L154.5 387.2 L155 385.4 L155.5 383.5 L156 381.4 L156.5 379.2 L157 376.7 L157.5 374.2 L158 371.4 L158.5 368.6 L159 365.7 L159.5 362.7 L160 359.8 L160.5 357 L161 354.4 L161.5 352.2 L162 350.5 L162.5 349.4 L163 349 L163.5 349.4 L164 350.5 L164.5 352.2 L165 354.4 L165.5 357 L166 359.8 L166.5 362.7 L167 365.7 L167.5 368.6 L168 371.4 L168.5 374.2 L169 376.7 L169.5 379.2 L170 381.4 L170.5 383.5 L171 385.4 L171.5 387.2 L172 388.7 L172.5 390.1 L173 391.3 L173.5 392.3 L174 393.2" fill="none" stroke="#6a6ab4" stroke-width="1.1"/>
<path d="M158 397.7 L158.5 397.5 L159 397.4 L159.5 397.2 L160 397 L160.5 396.8 L161 396.6 L161.5 396.3 L162 396 L162.5 395.7 L163 395.3 L163.5 395 L164 394.6 L164.5 394.1 L165 393.6 L165.5 393.1 L166 392.6 L166.5 392 L167 391.5 L167.5 390.8 L168 390.2 L168.5 389.5 L169 388.9 L169.5 388.2 L170 387.4 L170.5 386.7 L171 386 L171.5 385.3 L172 384.7 L172.5 384.1 L173 383.5 L173.5 383 L174 382.6 L174.5 382.3 L175 382.1 L175.5 382 L176 382.1 L176.5 382.3 L177 382.6 L177.5 383 L178 383.5 L178.5 384.1 L179 384.7 L179.5 385.3 L180 386 L180.5 386.7 L181 387.4 L181.5 388.2 L182 388.9 L182.5 389.5 L183 390.2 L183.5 390.8 L184 391.5 L184.5 392 L185 392.6 L185.5 393.1 L186 393.6 L186.5 394.1 L187 394.6 L187.5 395 L188 395.3 L188.5 395.7 L189 396 L189.5 396.3 L190 396.6 L190.5 396.8 L191 397 L191.5 397.2 L192 397.4 L192.5 397.5 L193 397.7 L193.5 397.8 L194 397.9" fill="none" stroke="#3a3ab4" stroke-width="1.1"/>
<path d="M37 397.2 L38.4 397.2 L40.5 397.1 L42.9 397.1 L45.4 397 L47.9 397 L50 396.9 L51.9 396.8 L53.6 396.8 L55.3 396.7 L56.9 396.7 L58.5 396.5 L60 396.4 L61.5 396.2 L62.9 396 L64.3 395.7 L65.6 395.4 L66.9 395.1 L68 394.8 L69 394.5 L69.9 394.1 L70.7 393.7 L71.5 393.3 L72.2 392.9 L73 392.5 L73.8 392.1 L74.5 391.7 L75.3 391.4 L76 391 L76.8 390.6 L77.5 390.3 L78.2 390 L79 389.7 L79.7 389.4 L80.4 389.1 L81.2 388.9 L82 388.6 L82.8 388.4 L83.8 388.3 L84.7 388.1 L85.6 387.9 L86.4 387.6 L87.2 387 L87.9 386.2 L88.5 385.2 L89 384.1 L89.5 382.9 L90 381.5 L90.5 380 L90.9 378.2 L91.4 376.1 L91.8 373.9 L92.1 371.8 L92.5 369.9 L92.8 368.6 L93.1 367.8 L93.4 367.5 L93.6 367.4 L93.9 367.5 L94.1 367.7 L94.4 367.8 L94.7 367.9 L94.9 368.1 L95.2 368.4 L95.4 368.8 L95.7 369.1 L96 369.5 L96.4 370 L96.7 370.5 L97.1 371.2 L97.6 371.7 L98 372 L98.4 372.1 L98.8 371.8 L99.3 371.3 L99.7 370.6 L100.2 369.8 L100.6 368.9 L101 368 L101.4 367.2 L101.7 366.5 L102.1 365.7 L102.4 364.8 L102.8 363.6 L103.2 362 L103.7 359.9 L104.2 357.4 L104.8 354.6 L105.3 351.6 L105.9 348.7 L106.4 346 L106.9 343.2 L107.3 340.2 L107.7 337.2 L108.1 334.5 L108.5 332.3 L108.9 330.8 L109.3 330.2 L109.6 330.2 L109.9 330.8 L110.2 331.7 L110.6 332.8 L111 334 L111.5 335.5 L112.1 337.5 L112.7 339.7 L113.4 341.8 L114 343.5 L114.5 344.5 L115 344.7 L115.4 344.3 L115.8 343.5 L116.2 342.5 L116.6 341.2 L117 340 L117.4 338.8 L117.8 337.6 L118.2 336.3 L118.5 334.6 L118.9 332.6 L119.3 330 L119.7 326.6 L120 322.5 L120.4 318 L120.7 313.3 L121.1 308.9 L121.5 305 L121.9 301.4 L122.3 297.8 L122.7 294.5 L123.2 291.5 L123.6 289.1 L124 287.5 L124.4 286.8 L124.8 286.9 L125.3 287.7 L125.7 288.7 L126.1 289.9 L126.5 291 L126.9 292.3 L127.3 294.1 L127.7 296.1 L128.1 297.8 L128.5 298.9 L128.9 299 L129.3 298.1 L129.6 296.6 L129.9 294.4 L130.3 291.7 L130.6 288.5 L131 285 L131.4 280.8 L131.8 275.9 L132.2 270.4 L132.7 264.9 L133.1 259.7 L133.5 255 L133.9 250.8 L134.3 246.9 L134.7 243.2 L135.1 239.7 L135.5 236.7 L135.8 234 L136.1 231.7 L136.3 229.8 L136.6 228.2 L136.8 227 L137 226.1 L137.2 225.5 L137.4 225.3 L137.5 225.5 L137.7 226 L137.9 226.7 L138.1 227.6 L138.3 228.5 L138.6 229.4 L138.9 230.4 L139.3 231.6 L139.7 232.9 L140.1 234.3 L140.5 236 L140.9 238 L141.3 240.2 L141.8 242.7 L142.2 245.2 L142.6 247.6 L143 250 L143.4 252.3 L143.7 254.7 L144.1 257 L144.4 259.2 L144.7 261.3 L145 263 L145.2 264.6 L145.4 266.1 L145.6 267.5 L145.8 268.4 L146 268.9 L146.2 268.7 L146.5 267.7 L146.8 266 L147.2 263.7 L147.6 261.2 L147.9 258.5 L148.3 256 L148.7 253.2 L149.1 250 L149.5 246.7 L149.9 243.7 L150.2 241.1 L150.6 239.5 L150.9 238.8 L151.3 238.7 L151.6 239.2 L151.9 240.1 L152.2 241.4 L152.5 243 L152.8 244.9 L153.1 247.2 L153.5 249.8 L153.8 252.9 L154.1 256.3 L154.5 260 L154.9 264.4 L155.3 269.6 L155.7 275.1 L156.1 280.6 L156.6 285.7 L157 290 L157.4 293.5 L157.9 296.5 L158.3 299.1 L158.7 301.3 L159.1 303.3 L159.5 305 L159.9 306.3 L160.2 307.2 L160.5 307.8 L160.8 308.2 L161.1 308.8 L161.5 309.5 L161.9 310.4 L162.3 311.2 L162.7 312 L163.1 313.1 L163.5 314.3 L164 316 L164.5 318.1 L165 320.6 L165.5 323.4 L166 326.3 L166.5 329.2 L167 332 L167.5 334.8 L168 337.6 L168.5 340.5 L169 343.3 L169.5 345.8 L170 348 L170.5 349.8 L170.9 351.4 L171.4 352.7 L171.8 353.9 L172.3 354.9 L172.8 356 L173.3 357 L173.8 357.8 L174.3 358.6 L174.9 359.3 L175.4 360.1 L176 361 L176.6 362 L177.2 363.1 L177.9 364.2 L178.6 365.4 L179.3 366.7 L180 368 L180.8 369.4 L181.6 370.9 L182.4 372.5 L183.3 374.1 L184.2 375.6 L185 377 L185.8 378.3 L186.6 379.5 L187.4 380.7 L188.3 381.8 L189.1 382.9 L190 384 L191 385.2 L192.1 386.4 L193.3 387.7 L194.4 388.8 L195.3 389.8 L196 390.5" fill="none" stroke="#7a1010" stroke-width="2.6" stroke-linejoin="round"/>
<path d="M37 397.2 L38.4 397.2 L40.5 397.1 L42.9 397.1 L45.4 397 L47.9 397 L50 396.9 L51.9 396.8 L53.6 396.8 L55.3 396.7 L56.9 396.7 L58.5 396.5 L60 396.4 L61.5 396.2 L62.9 396 L64.3 395.7 L65.6 395.4 L66.9 395.1 L68 394.8 L69 394.5 L69.9 394.1 L70.7 393.7 L71.5 393.3 L72.2 392.9 L73 392.5 L73.8 392.1 L74.5 391.7 L75.3 391.4 L76 391 L76.8 390.6 L77.5 390.3 L78.2 390 L79 389.7 L79.7 389.4 L80.4 389.1 L81.2 388.9 L82 388.6 L82.8 388.4 L83.8 388.3 L84.7 388.1 L85.6 387.9 L86.4 387.6 L87.2 387 L87.9 386.2 L88.5 385.2 L89 384.1 L89.5 382.9 L90 381.5 L90.5 380 L90.9 378.2 L91.4 376.1 L91.8 373.9 L92.1 371.8 L92.5 369.9 L92.8 368.6 L93.1 367.8 L93.4 367.5 L93.6 367.4 L93.9 367.5 L94.1 367.7 L94.4 367.8 L94.7 367.9 L94.9 368.1 L95.2 368.4 L95.4 368.8 L95.7 369.1 L96 369.5 L96.4 370 L96.7 370.5 L97.1 371.2 L97.6 371.7 L98 372 L98.4 372.1 L98.8 371.8 L99.3 371.3 L99.7 370.6 L100.2 369.8 L100.6 368.9 L101 368 L101.4 367.2 L101.7 366.5 L102.1 365.7 L102.4 364.8 L102.8 363.6 L103.2 362 L103.7 359.9 L104.2 357.4 L104.8 354.6 L105.3 351.6 L105.9 348.7 L106.4 346 L106.9 343.2 L107.3 340.2 L107.7 337.2 L108.1 334.5 L108.5 332.3 L108.9 330.8 L109.3 330.2 L109.6 330.2 L109.9 330.8 L110.2 331.7 L110.6 332.8 L111 334 L111.5 335.5 L112.1 337.5 L112.7 339.7 L113.4 341.8 L114 343.5 L114.5 344.5 L115 344.7 L115.4 344.3 L115.8 343.5 L116.2 342.5 L116.6 341.2 L117 340 L117.4 338.8 L117.8 337.6 L118.2 336.3 L118.5 334.6 L118.9 332.6 L119.3 330 L119.7 326.6 L120 322.5 L120.4 318 L120.7 313.3 L121.1 308.9 L121.5 305 L121.9 301.4 L122.3 297.8 L122.7 294.5 L123.2 291.5 L123.6 289.1 L124 287.5 L124.4 286.8 L124.8 286.9 L125.3 287.7 L125.7 288.7 L126.1 289.9 L126.5 291 L126.9 292.3 L127.3 294.1 L127.7 296.1 L128.1 297.8 L128.5 298.9 L128.9 299 L129.3 298.1 L129.6 296.6 L129.9 294.4 L130.3 291.7 L130.6 288.5 L131 285 L131.4 280.8 L131.8 275.9 L132.2 270.4 L132.7 264.9 L133.1 259.7 L133.5 255 L133.9 250.8 L134.3 246.9 L134.7 243.2 L135.1 239.7 L135.5 236.7 L135.8 234 L136.1 231.7 L136.3 229.8 L136.6 228.2 L136.8 227 L137 226.1 L137.2 225.5 L137.4 225.3 L137.5 225.5 L137.7 226 L137.9 226.7 L138.1 227.6 L138.3 228.5 L138.6 229.4 L138.9 230.4 L139.3 231.6 L139.7 232.9 L140.1 234.3 L140.5 236 L140.9 238 L141.3 240.2 L141.8 242.7 L142.2 245.2 L142.6 247.6 L143 250 L143.4 252.3 L143.7 254.7 L144.1 257 L144.4 259.2 L144.7 261.3 L145 263 L145.2 264.6 L145.4 266.1 L145.6 267.5 L145.8 268.4 L146 268.9 L146.2 268.7 L146.5 267.7 L146.8 266 L147.2 263.7 L147.6 261.2 L147.9 258.5 L148.3 256 L148.7 253.2 L149.1 250 L149.5 246.7 L149.9 243.7 L150.2 241.1 L150.6 239.5 L150.9 238.8 L151.3 238.7 L151.6 239.2 L151.9 240.1 L152.2 241.4 L152.5 243 L152.8 244.9 L153.1 247.2 L153.5 249.8 L153.8 252.9 L154.1 256.3 L154.5 260 L154.9 264.4 L155.3 269.6 L155.7 275.1 L156.1 280.6 L156.6 285.7 L157 290 L157.4 293.5 L157.9 296.5 L158.3 299.1 L158.7 301.3 L159.1 303.3 L159.5 305 L159.9 306.3 L160.2 307.2 L160.5 307.8 L160.8 308.2 L161.1 308.8 L161.5 309.5 L161.9 310.4 L162.3 311.2 L162.7 312 L163.1 313.1 L163.5 314.3 L164 316 L164.5 318.1 L165 320.6 L165.5 323.4 L166 326.3 L166.5 329.2 L167 332 L167.5 334.8 L168 337.6 L168.5 340.5 L169 343.3 L169.5 345.8 L170 348 L170.5 349.8 L170.9 351.4 L171.4 352.7 L171.8 353.9 L172.3 354.9 L172.8 356 L173.3 357 L173.8 357.8 L174.3 358.6 L174.9 359.3 L175.4 360.1 L176 361 L176.6 362 L177.2 363.1 L177.9 364.2 L178.6 365.4 L179.3 366.7 L180 368 L180.8 369.4 L181.6 370.9 L182.4 372.5 L183.3 374.1 L184.2 375.6 L185 377 L185.8 378.3 L186.6 379.5 L187.4 380.7 L188.3 381.8 L189.1 382.9 L190 384 L191 385.2 L192.1 386.4 L193.3 387.7 L194.4 388.8 L195.3 389.8 L196 390.5" fill="none" stroke="#c02828" stroke-width="0.8" stroke-linejoin="round" opacity="0.6"/>
<path d="M37 424.6 L37.5 424.6 L38 424.6 L38.5 424.6 L39 424.6 L39.5 424.6 L40 424.6 L40.5 424.6 L41 424.6 L41.5 424.6 L42 424.6 L42.5 424.6 L43 424.6 L43.5 424.6 L44 424.6 L44.5 424.6 L45 424.6 L45.5 424.6 L46 424.6 L46.5 424.6 L47 424.6 L47.5 424.6 L48 424.6 L48.5 424.6 L49 424.6 L49.5 424.6 L50 424.6 L50.5 424.6 L51 424.6 L51.5 424.6 L52 424.6 L52.5 424.6 L53 424.6 L53.5 424.6 L54 424.7 L54.5 424.7 L55 424.7 L55.5 424.7 L56 424.7 L56.5 424.7 L57 424.7 L57.5 424.7 L58 424.7 L58.5 424.7 L59 424.7 L59.5 424.7 L60 424.7 L60.5 424.7 L61 424.7 L61.5 424.7 L62 424.7 L62.5 424.7 L63 424.7 L63.5 424.7 L64 424.7 L64.5 424.7 L65 424.7 L65.5 424.7 L66 424.7 L66.5 424.7 L67 424.7 L67.5 424.7 L68 424.7 L68.5 424.7 L69 424.7 L69.5 424.7 L70 424.7 L70.5 424.7 L71 424.7 L71.5 424.7 L72 424.7 L72.5 424.7 L73 424.7 L73.5 424.7 L74 424.7 L74.5 424.7 L75 424.7 L75.5 424.7 L76 424.7 L76.5 424.7 L77 424.7 L77.5 424.7 L78 424.7 L78.5 424.7 L79 424.7 L79.5 424.7 L80 424.7 L80.5 424.7 L81 424.7 L81.5 424.7 L82 424.7 L82.5 424.7 L83 424.7 L83.5 424.7 L84 424.7 L84.5 424.7 L85 424.7 L85.5 424.7 L86 424.7 L86.5 424.7 L87 424.7 L87.5 424.7 L88 424.7 L88.5 424.7 L89 424.7 L89.5 424.7 L90 424.7 L90.5 424.7 L91 424.7 L91.5 424.7 L92 424.7 L92.5 424.7 L93 424.7 L93.5 424.7 L94 424.7 L94.5 424.7 L95 424.7 L95.5 424.7 L96 424.7 L96.5 424.7 L97 424.7 L97.5 424.7 L98 424.7 L98.5 424.6 L99 424.6 L99.5 424.6 L100 424.6 L100.5 424.6 L101 424.6 L101.5 424.6 L102 424.6 L102.5 424.6 L103 424.6 L103.5 424.5 L104 424.5 L104.5 424.5 L105 424.5 L105.5 424.5 L106 424.5 L106.5 424.5 L107 424.4 L107.5 424.4 L108 424.4 L108.5 424.4 L109 424.4 L109.5 424.3 L110 424.3 L110.5 424.3 L111 424.3 L111.5 424.2 L112 424.2 L112.5 424.2 L113 424.2 L113.5 424.1 L114 424.1 L114.5 424.1 L115 424 L115.5 424 L116 424 L116.5 423.9 L117 423.9 L117.5 423.8 L118 423.8 L118.5 423.7 L119 423.6 L119.5 423.6 L120 423.5 L120.5 423.4 L121 423.3 L121.5 423.2 L122 423.1 L122.5 423 L123 422.9 L123.5 422.7 L124 422.6 L124.5 422.4 L125 422.2 L125.5 422 L126 421.8 L126.5 421.6 L127 421.4 L127.5 421.1 L128 420.9 L128.5 420.6 L129 420.3 L129.5 420 L130 419.7 L130.5 419.4 L131 419.1 L131.5 418.8 L132 418.4 L132.5 418.1 L133 417.8 L133.5 417.5 L134 417.1 L134.5 416.8 L135 416.5 L135.5 416.2 L136 415.9 L136.5 415.7 L137 415.4 L137.5 415.2 L138 415 L138.5 414.8 L139 414.6 L139.5 414.5 L140 414.4 L140.5 414.4 L141 414.3 L141.5 414.3 L142 414.4 L142.5 414.4 L143 414.5 L143.5 414.6 L144 414.8 L144.5 414.9 L145 415.1 L145.5 415.3 L146 415.6 L146.5 415.8 L147 416.1 L147.5 416.4 L148 416.6 L148.5 416.9 L149 417.2 L149.5 417.5 L150 417.8 L150.5 418.2 L151 418.5 L151.5 418.8 L152 419 L152.5 419.3 L153 419.6 L153.5 419.9 L154 420.1 L154.5 420.4 L155 420.6 L155.5 420.8 L156 421 L156.5 421.2 L157 421.4 L157.5 421.6 L158 421.8 L158.5 421.9 L159 422.1 L159.5 422.2 L160 422.3 L160.5 422.4 L161 422.5 L161.5 422.6 L162 422.7 L162.5 422.8 L163 422.9 L163.5 423 L164 423 L164.5 423.1 L165 423.2 L165.5 423.2 L166 423.3 L166.5 423.3 L167 423.4 L167.5 423.4 L168 423.5 L168.5 423.5 L169 423.6 L169.5 423.6 L170 423.7 L170.5 423.7 L171 423.8 L171.5 423.8 L172 423.9 L172.5 423.9 L173 423.9 L173.5 424 L174 424 L174.5 424.1 L175 424.1 L175.5 424.1 L176 424.2 L176.5 424.2 L177 424.2 L177.5 424.3 L178 424.3 L178.5 424.3 L179 424.4 L179.5 424.4 L180 424.4 L180.5 424.5 L181 424.5 L181.5 424.5 L182 424.6 L182.5 424.6 L183 424.6 L183.5 424.6 L184 424.7 L184.5 424.7 L185 424.7 L185.5 424.7 L186 424.7 L186.5 424.8 L187 424.8 L187.5 424.8 L188 424.8 L188.5 424.8 L189 424.8 L189.5 424.9 L190 424.9 L190.5 424.9 L191 424.9 L191.5 424.9 L192 424.9 L192.5 424.9 L193 424.9 L193.5 425 L194 425 L194.5 425 L195 425 L195.5 425 L196 425" fill="none" stroke="#eca048" stroke-width="2"/>
<rect x="36.7" y="207.6" width="160.1" height="224.1" fill="none" stroke="#1a1a1a" stroke-width="1.2"/>
<path d="M36.7 424.5 H40.7 M36.7 398 H38.9 M36.7 371.4 H40.7 M36.7 344.9 H38.9 M36.7 318.4 H40.7 M36.7 291.9 H38.9 M36.7 265.4 H40.7 M36.7 238.8 H38.9 M36.7 212.3 H40.7 M36.7 431.7 V427.7 M52.7 431.7 V429.5 M68.7 431.7 V427.7 M84.7 431.7 V429.5 M100.7 431.7 V427.7 M116.8 431.7 V429.5 M132.8 431.7 V427.7 M148.8 431.7 V429.5 M164.8 431.7 V427.7 M180.8 431.7 V429.5 M196.8 431.7 V427.7" stroke="#1a1a1a" stroke-width="1"/>
<text x="31.5" y="428.8" text-anchor="end" style='font-family:"Liberation Sans",sans-serif;font-weight:bold;font-size:12px' fill="#111">0</text>
<text x="31.5" y="375.8" text-anchor="end" style='font-family:"Liberation Sans",sans-serif;font-weight:bold;font-size:12px' fill="#111">5</text>
<text x="31.5" y="322.7" text-anchor="end" style='font-family:"Liberation Sans",sans-serif;font-weight:bold;font-size:12px' fill="#111">10</text>
<text x="31.5" y="269.7" text-anchor="end" style='font-family:"Liberation Sans",sans-serif;font-weight:bold;font-size:12px' fill="#111">15</text>
<text x="31.5" y="216.6" text-anchor="end" style='font-family:"Liberation Sans",sans-serif;font-weight:bold;font-size:12px' fill="#111">20</text>
<text x="37.3" y="448.5" text-anchor="middle" style='font-family:"Liberation Sans",sans-serif;font-weight:bold;font-size:12px' fill="#111">1.2</text>
<text x="69.3" y="448.5" text-anchor="middle" style='font-family:"Liberation Sans",sans-serif;font-weight:bold;font-size:12px' fill="#111">1.4</text>
<text x="101.3" y="448.5" text-anchor="middle" style='font-family:"Liberation Sans",sans-serif;font-weight:bold;font-size:12px' fill="#111">1.6</text>
<text x="133.4" y="448.5" text-anchor="middle" style='font-family:"Liberation Sans",sans-serif;font-weight:bold;font-size:12px' fill="#111">1.8</text>
<text x="165.4" y="448.5" text-anchor="middle" style='font-family:"Liberation Sans",sans-serif;font-weight:bold;font-size:12px' fill="#111">2.0</text>
<text x="197.4" y="448.5" text-anchor="middle" style='font-family:"Liberation Sans",sans-serif;font-weight:bold;font-size:12px' fill="#111">2.2</text>
<text x="117" y="460.8" text-anchor="middle" style='font-family:"Liberation Sans",sans-serif;font-weight:bold;font-size:12px' fill="#111">Photon energy (eV)</text>
<text transform="translate(15.3,318) rotate(-90)" text-anchor="middle" style='font-family:"Liberation Sans",sans-serif;font-weight:bold;font-size:12px' fill="#111">Intensity (a.u.)</text>
<text x="39.4" y="344" style='font-family:"Liberation Sans",sans-serif;font-size:10.7px' fill="#222">1D vdW FRP</text>
<text x="43.3" y="419.6" style='font-family:"Liberation Sans",sans-serif;font-size:10.6px' fill="#222">Monolayer MoS<tspan dy="3" font-size="7.5">2</tspan></text>
<text x="80.5" y="385.5" text-anchor="middle" style='font-family:"Liberation Sans",sans-serif;font-size:11px' fill="#2a9a3a">P1</text>
<text x="93.8" y="364" text-anchor="middle" style='font-family:"Liberation Sans",sans-serif;font-size:11px' fill="#2a9a3a">P2</text>
<text x="108.8" y="326.5" text-anchor="middle" style='font-family:"Liberation Sans",sans-serif;font-size:11px' fill="#2a9a3a">P3</text>
<text x="123" y="285" text-anchor="middle" style='font-family:"Liberation Sans",sans-serif;font-size:11px' fill="#2a9a3a">P4</text>
<text x="139" y="221.5" text-anchor="middle" style='font-family:"Liberation Sans",sans-serif;font-size:11px' fill="#2a9a3a">P5</text>
<text x="153.4" y="236" text-anchor="middle" style='font-family:"Liberation Sans",sans-serif;font-size:11px' fill="#2a9a3a">P6</text>
<text x="166.4" y="301.6" text-anchor="middle" style='font-family:"Liberation Sans",sans-serif;font-size:11px' fill="#2a9a3a">P7</text>
<text x="179.5" y="351.2" text-anchor="middle" style='font-family:"Liberation Sans",sans-serif;font-size:11px' fill="#2a9a3a">P8</text>
<ellipse cx="288" cy="263.8" rx="21.7" ry="39.7" transform="rotate(4 288 263.8)" fill="#efd2d2"/>
<path d="M526.8 221.5 L528.1 222.6 L528.8 223.5 L529.3 224.6 L529.6 225.8 L529.7 227.2 L529.6 228.7 L529.4 230.4 L528.9 232.2 L528.3 234.2 L527.6 236.4 L526.6 238.7 L525.5 241.2 L524.3 243.8 L522.8 246.6 L521.2 249.6 L519.5 252.7 L517.5 256 L515.4 259.5 L513 263.3 L510.4 267.3 L507.4 271.7 L503.8 277 L498.4 284.8 L494.7 290 L491.6 294.4 L488.7 298.2 L486.1 301.7 L483.5 305 L481.1 307.9 L478.8 310.7 L476.6 313.2 L474.4 315.5 L472.4 317.6 L470.5 319.5 L468.6 321.2 L466.8 322.7 L465.2 323.9 L463.6 325 L462.1 325.8 L460.7 326.4 L459.4 326.8 L458.2 327 L457 326.9 L455.8 326.5 L454.4 325.7 L453.1 324.6 L452.4 323.7 L451.9 322.6 L451.6 321.4 L451.5 320 L451.6 318.5 L451.8 316.8 L452.3 315 L452.9 313 L453.6 310.8 L454.6 308.5 L455.7 306 L456.9 303.4 L458.4 300.6 L460 297.6 L461.7 294.5 L463.7 291.2 L465.8 287.7 L468.2 283.9 L470.8 279.9 L473.8 275.5 L477.4 270.2 L482.8 262.4 L486.5 257.2 L489.6 252.8 L492.5 249 L495.1 245.5 L497.7 242.2 L500.1 239.3 L502.4 236.5 L504.6 234 L506.8 231.7 L508.8 229.6 L510.7 227.7 L512.6 226 L514.4 224.5 L516 223.3 L517.6 222.2 L519.1 221.4 L520.5 220.8 L521.8 220.4 L523 220.2 L524.2 220.3 L525.4 220.7Z" fill="#f9dcc4"/>
<path d="M548.5 331.6 L547 332 L545.8 332.1 L544.7 331.9 L543.6 331.5 L542.5 330.9 L541.4 330.1 L540.3 329 L539.2 327.8 L538 326.4 L536.9 324.7 L535.7 322.9 L534.5 320.9 L533.3 318.7 L532 316.2 L530.7 313.6 L529.5 310.8 L528.2 307.7 L526.8 304.4 L525.4 300.8 L524 296.9 L522.4 292.6 L520.7 287.4 L518 279.5 L516.3 274.3 L515 269.9 L513.8 265.9 L512.8 262.2 L511.9 258.7 L511.1 255.5 L510.4 252.5 L509.9 249.6 L509.4 246.9 L509 244.4 L508.8 242 L508.6 239.9 L508.6 237.9 L508.7 236 L508.8 234.4 L509.1 232.9 L509.5 231.6 L510 230.4 L510.6 229.5 L511.4 228.7 L512.4 228 L513.9 227.4 L515.4 227 L516.6 226.9 L517.7 227.1 L518.8 227.5 L519.9 228.1 L521 228.9 L522.1 230 L523.2 231.2 L524.4 232.6 L525.5 234.3 L526.7 236.1 L527.9 238.1 L529.1 240.3 L530.4 242.8 L531.7 245.4 L532.9 248.2 L534.2 251.3 L535.6 254.6 L537 258.2 L538.4 262.1 L540 266.4 L541.7 271.6 L544.4 279.5 L546.1 284.7 L547.4 289.1 L548.6 293.1 L549.6 296.8 L550.5 300.3 L551.3 303.5 L552 306.5 L552.5 309.4 L553 312.1 L553.4 314.6 L553.6 317 L553.8 319.1 L553.8 321.1 L553.7 323 L553.6 324.6 L553.3 326.1 L552.9 327.4 L552.4 328.6 L551.8 329.5 L551 330.3 L550 331Z" fill="#f9dcc4"/>
<rect x="259.7" y="209.1" width="302.4" height="223" fill="none" stroke="#2a2a2a" stroke-width="1.3"/>
<path d="M259.7 431.9 H261.7 M259.7 400 H263.7 M259.7 368.1 H261.7 M259.7 336.2 H263.7 M259.7 304.3 H261.7 M259.7 272.4 H263.7 M259.7 240.5 H261.7 M259.7 208.6 H263.7 M273.9 432.1 V430.1 M302.6 432.1 V428.1 M331.3 432.1 V430.1 M360 432.1 V428.1 M388.7 432.1 V430.1 M417.4 432.1 V428.1 M446.1 432.1 V430.1 M474.8 432.1 V428.1 M503.5 432.1 V430.1 M532.2 432.1 V428.1" stroke="#1a1a1a" stroke-width="1"/>
<text x="254" y="404.5" text-anchor="end" style='font-family:"Liberation Sans",sans-serif;font-weight:bold;font-size:11.6px' fill="#111">0.4</text>
<text x="254" y="340.7" text-anchor="end" style='font-family:"Liberation Sans",sans-serif;font-weight:bold;font-size:11.6px' fill="#111">0.6</text>
<text x="254" y="276.9" text-anchor="end" style='font-family:"Liberation Sans",sans-serif;font-weight:bold;font-size:11.6px' fill="#111">0.8</text>
<text x="254" y="213.1" text-anchor="end" style='font-family:"Liberation Sans",sans-serif;font-weight:bold;font-size:11.6px' fill="#111">1.0</text>
<text x="302.6" y="447.3" text-anchor="middle" style='font-family:"Liberation Sans",sans-serif;font-weight:bold;font-size:11.6px' fill="#111">0.4</text>
<text x="360" y="447.3" text-anchor="middle" style='font-family:"Liberation Sans",sans-serif;font-weight:bold;font-size:11.6px' fill="#111">0.8</text>
<text x="417.4" y="447.3" text-anchor="middle" style='font-family:"Liberation Sans",sans-serif;font-weight:bold;font-size:11.6px' fill="#111">1.2</text>
<text x="474.8" y="447.3" text-anchor="middle" style='font-family:"Liberation Sans",sans-serif;font-weight:bold;font-size:11.6px' fill="#111">1.6</text>
<text x="532.2" y="447.3" text-anchor="middle" style='font-family:"Liberation Sans",sans-serif;font-weight:bold;font-size:11.6px' fill="#111">2.0</text>
<text x="409.8" y="465" text-anchor="middle" style='font-family:"Liberation Sans",sans-serif;font-weight:bold;font-size:11.7px' fill="#111">Energy (eV)</text>
<text transform="translate(233.4,315.7) rotate(-90)" text-anchor="middle" style='font-family:"Liberation Sans",sans-serif;font-weight:bold;font-size:12px' fill="#111">Linear dichroism</text>
<rect x="278" y="236.1" width="4.4" height="4.4" fill="#6e5656"/>
<rect x="287.2" y="234.1" width="4.4" height="4.4" fill="#6e5656"/>
<rect x="302.3" y="265" width="4.4" height="4.4" fill="#6e5656"/>
<rect x="272.8" y="284.7" width="4.4" height="4.4" fill="#6e5656"/>
<text x="289.4" y="318" text-anchor="middle" style='font-family:"Liberation Serif",serif;font-size:10px' fill="#1a1a1a">Sr<tspan dy="2" font-size="7.3">1+x</tspan><tspan dy="-2">TiS</tspan><tspan dy="2" font-size="7.3">3</tspan></text>
<text x="289.4" y="330" text-anchor="middle" style='font-family:"Liberation Serif",serif;font-size:10px' fill="#1a1a1a">(Ref. 3)</text>
<text x="407" y="223.9" text-anchor="middle" style='font-family:"Liberation Serif",serif;font-size:10px' fill="#1a1a1a">BP</text>
<text x="407" y="236.1" text-anchor="middle" style='font-family:"Liberation Serif",serif;font-size:10px' fill="#1a1a1a">(Ref. 5)</text>
<text x="486.3" y="223.9" text-anchor="middle" style='font-family:"Liberation Serif",serif;font-size:10px' fill="#1a1a1a">BaTiS<tspan dy="2" font-size="7.3">3</tspan></text>
<text x="486.3" y="236.1" text-anchor="middle" style='font-family:"Liberation Serif",serif;font-size:10px' fill="#1a1a1a">(Ref. 8)</text>
<text x="512.3" y="257.8" text-anchor="middle" style='font-family:"Liberation Serif",serif;font-size:10px' fill="#1a1a1a">This work</text>
<text x="425.2" y="293.8" text-anchor="middle" style='font-family:"Liberation Serif",serif;font-size:10px' fill="#1a1a1a">ReSe<tspan dy="2" font-size="7.3">2</tspan></text>
<text x="425.2" y="306" text-anchor="middle" style='font-family:"Liberation Serif",serif;font-size:10px' fill="#1a1a1a">(Ref. 6)</text>
<text x="512.3" y="307" text-anchor="middle" style='font-family:"Liberation Serif",serif;font-size:10px' fill="#1a1a1a">KP<tspan dy="2" font-size="7.3">15</tspan></text>
<text x="513.8" y="317.7" text-anchor="middle" style='font-family:"Liberation Serif",serif;font-size:10px' fill="#1a1a1a">(Ref. 9)</text>
<text x="484.8" y="324.9" text-anchor="middle" style='font-family:"Liberation Serif",serif;font-size:10px' fill="#1a1a1a">GaTe</text>
<text x="485.6" y="336.4" text-anchor="middle" style='font-family:"Liberation Serif",serif;font-size:10px' fill="#1a1a1a">(Ref. 7)</text>
<text x="503.6" y="366" text-anchor="middle" style='font-family:"Liberation Serif",serif;font-size:10px' fill="#1a1a1a">ZrS<tspan dy="2" font-size="7.3">3</tspan></text>
<text x="505.7" y="377.1" text-anchor="middle" style='font-family:"Liberation Serif",serif;font-size:10px' fill="#1a1a1a">(Ref. 10)</text>
<text x="542.2" y="353.3" text-anchor="middle" style='font-family:"Liberation Serif",serif;font-size:10px' fill="#1a1a1a">ReS<tspan dy="2" font-size="7.3">2</tspan></text>
<text x="543.4" y="364.2" text-anchor="middle" style='font-family:"Liberation Serif",serif;font-size:10px' fill="#1a1a1a">(Ref. 11)</text>
<text x="379.3" y="350.3" text-anchor="middle" style='font-family:"Liberation Serif",serif;font-size:10px' fill="#1a1a1a">TiS<tspan dy="2" font-size="7.3">3</tspan></text>
<text x="379.3" y="362" text-anchor="middle" style='font-family:"Liberation Serif",serif;font-size:10px' fill="#1a1a1a">(Ref. 4)</text>
<path d="M431.9 224 L435.3 230.2 L428.5 230.2 Z" fill="#1414c8"/>
<circle cx="490" cy="240.7" r="3.2" fill="#fff" stroke="#101070" stroke-width="0.9"/><path d="M486.8 240.7 A3.2 3.2 0 0 0 493.2 240.7 Z" fill="#101070"/>
<circle cx="446.9" cy="298.1" r="3.2" fill="#fff" stroke="#d020d0" stroke-width="0.9"/><path d="M446.9 294.9 A3.2 3.2 0 0 1 446.9 301.3 Z" fill="#d020d0"/>
<rect x="495" y="298.7" width="5.6" height="5.6" fill="#fff" stroke="#8020c0" stroke-width="0.9"/><rect x="495" y="298.7" width="2.8" height="5.6" fill="#8020c0"/>
<path d="M484 310 L487.6 313.6 L484 317.2 L480.4 313.6 Z" fill="#fff" stroke="#208030" stroke-width="0.9"/><path d="M480.4 313.6 L484 310 L487.6 313.6 Z" fill="#208030"/>
<circle cx="504.4" cy="349.2" r="3.4" fill="#601880"/>
<circle cx="540" cy="339.3" r="3.2" fill="#fff" stroke="#601010" stroke-width="0.9"/><path d="M536.8 339.3 A3.2 3.2 0 0 0 543.2 339.3 Z" fill="#601010"/>
<circle cx="376" cy="333.4" r="3.3" fill="#30e0f0"/>
<circle cx="520.1" cy="232.6" r="3.2" fill="#e8708a"/><circle cx="519.4" cy="231.9" r="1.3" fill="#f6a8b8"/>
<circle cx="495.5" cy="275.4" r="3.2" fill="#e8708a"/><circle cx="494.8" cy="274.7" r="1.3" fill="#f6a8b8"/>
<circle cx="481.4" cy="306.4" r="3.2" fill="#e8708a"/><circle cx="480.7" cy="305.7" r="1.3" fill="#f6a8b8"/>
<circle cx="468.1" cy="317.4" r="3.2" fill="#e8708a"/><circle cx="467.4" cy="316.7" r="1.3" fill="#f6a8b8"/>
<circle cx="543.3" cy="310.7" r="3.2" fill="#e8708a"/><circle cx="542.6" cy="310" r="1.3" fill="#f6a8b8"/>
<g fill="none" stroke="#dedede" stroke-width="0.5">
<circle cx="311.4" cy="384.1" r="13.3"/>
<circle cx="311.4" cy="384.1" r="26.7"/>
<path d="M351.4 384.1 L271.4 384.1"/>
<path d="M346 364.1 L276.8 404.1"/>
<path d="M331.4 349.5 L291.4 418.7"/>
<path d="M311.4 344.1 L311.4 424.1"/>
<path d="M291.4 349.5 L331.4 418.7"/>
<path d="M276.8 364.1 L346 404.1"/>
</g>
<circle cx="311.4" cy="384.1" r="40" fill="none" stroke="#c4c4c4" stroke-width="0.7"/>
<path d="M345.4 384.1 L345.4 383 L345.2 382 L345 380.9 L344.6 379.9 L344.2 378.9 L343.7 377.9 L343 377 L342.4 376.1 L341.6 375.3 L340.7 374.5 L339.8 373.8 L338.9 373.2 L337.8 372.6 L336.8 372.1 L335.6 371.7 L334.5 371.3 L333.3 371.1 L332.1 370.9 L330.9 370.8 L329.7 370.7 L328.5 370.8 L327.3 370.9 L326.1 371 L324.9 371.3 L323.8 371.6 L322.7 372 L321.7 372.4 L320.6 372.8 L319.7 373.3 L318.7 373.9 L317.9 374.5 L317.1 375.1 L316.3 375.7 L315.6 376.3 L315 376.9 L314.4 377.5 L313.9 378.1 L313.5 378.7 L313.1 379.3 L312.8 379.8 L312.5 380.3 L312.2 380.8 L312 381.2 L311.9 381.6 L311.7 381.9 L311.6 382.2 L311.6 382.4 L311.5 382.5 L311.4 382.6 L311.4 382.6 L311.3 382.6 L311.3 382.4 L311.2 382.3 L311.1 382 L311 381.7 L310.9 381.4 L310.7 381 L310.5 380.6 L310.2 380.1 L309.9 379.6 L309.5 379 L309.1 378.4 L308.6 377.8 L308.1 377.2 L307.5 376.6 L306.8 376 L306.1 375.4 L305.3 374.8 L304.5 374.2 L303.6 373.6 L302.7 373.1 L301.7 372.6 L300.6 372.2 L299.5 371.8 L298.4 371.4 L297.3 371.2 L296.1 370.9 L294.9 370.8 L293.7 370.7 L292.5 370.7 L291.3 370.8 L290.1 371 L288.9 371.2 L287.7 371.5 L286.6 371.9 L285.5 372.3 L284.4 372.9 L283.4 373.5 L282.5 374.2 L281.6 374.9 L280.8 375.7 L280.1 376.5 L279.4 377.4 L278.9 378.4 L278.4 379.4 L278 380.4 L277.7 381.4 L277.5 382.5 L277.4 383.6 L277.4 384.6 L277.5 385.7 L277.7 386.8 L278 387.8 L278.4 388.8 L278.9 389.8 L279.4 390.8 L280.1 391.7 L280.8 392.5 L281.6 393.3 L282.5 394 L283.4 394.7 L284.4 395.3 L285.5 395.9 L286.6 396.3 L287.7 396.7 L288.9 397 L290.1 397.2 L291.3 397.4 L292.5 397.5 L293.7 397.5 L294.9 397.4 L296.1 397.3 L297.3 397 L298.4 396.8 L299.5 396.4 L300.6 396 L301.7 395.6 L302.7 395.1 L303.6 394.6 L304.5 394 L305.3 393.4 L306.1 392.8 L306.8 392.2 L307.5 391.6 L308.1 391 L308.6 390.4 L309.1 389.8 L309.5 389.2 L309.9 388.6 L310.2 388.1 L310.5 387.6 L310.7 387.2 L310.9 386.8 L311 386.5 L311.1 386.2 L311.2 385.9 L311.3 385.8 L311.3 385.6 L311.4 385.6 L311.4 385.6 L311.5 385.7 L311.6 385.8 L311.6 386 L311.7 386.3 L311.9 386.6 L312 387 L312.2 387.4 L312.5 387.9 L312.8 388.4 L313.1 388.9 L313.5 389.5 L313.9 390.1 L314.4 390.7 L315 391.3 L315.6 391.9 L316.3 392.5 L317.1 393.1 L317.9 393.7 L318.7 394.3 L319.7 394.9 L320.6 395.4 L321.7 395.8 L322.7 396.2 L323.8 396.6 L324.9 396.9 L326.1 397.2 L327.3 397.3 L328.5 397.4 L329.7 397.5 L330.9 397.4 L332.1 397.3 L333.3 397.1 L334.5 396.9 L335.6 396.5 L336.8 396.1 L337.8 395.6 L338.9 395 L339.8 394.4 L340.7 393.7 L341.6 392.9 L342.4 392.1 L343 391.2 L343.7 390.3 L344.2 389.3 L344.6 388.3 L345 387.3 L345.2 386.2 L345.4 385.2 L345.4 384.1 Z" fill="none" stroke="#e03030" stroke-width="1"/>
<path d="M312.9 384.1 L312.9 384.1 L313 384 L313.1 383.9 L313.2 383.9 L313.4 383.8 L313.6 383.7 L313.8 383.6 L314 383.4 L314.3 383.2 L314.6 383.1 L314.9 382.8 L315.3 382.6 L315.6 382.3 L316 381.9 L316.3 381.6 L316.7 381.2 L317.1 380.7 L317.4 380.3 L317.8 379.7 L318.1 379.2 L318.4 378.6 L318.7 378 L319 377.4 L319.2 376.7 L319.4 376.1 L319.5 375.4 L319.7 374.6 L319.7 373.9 L319.8 373.2 L319.8 372.5 L319.7 371.7 L319.6 371 L319.5 370.3 L319.3 369.5 L319.1 368.8 L318.8 368.2 L318.5 367.5 L318.1 366.9 L317.7 366.3 L317.2 365.8 L316.7 365.3 L316.2 364.8 L315.7 364.4 L315.1 364.1 L314.5 363.8 L313.8 363.5 L313.2 363.3 L312.6 363.2 L311.9 363.1 L311.2 363.1 L310.6 363.1 L309.9 363.3 L309.3 363.4 L308.6 363.6 L308 363.9 L307.4 364.2 L306.9 364.6 L306.3 365.1 L305.8 365.5 L305.3 366.1 L304.9 366.6 L304.5 367.2 L304.2 367.9 L303.9 368.5 L303.6 369.2 L303.4 369.9 L303.2 370.6 L303.1 371.3 L303 372.1 L303 372.8 L303 373.6 L303.1 374.3 L303.2 375 L303.3 375.7 L303.5 376.4 L303.7 377.1 L304 377.7 L304.2 378.3 L304.5 378.9 L304.9 379.5 L305.2 380 L305.6 380.5 L305.9 380.9 L306.3 381.4 L306.6 381.8 L307 382.1 L307.4 382.4 L307.7 382.7 L308 382.9 L308.3 383.2 L308.6 383.3 L308.9 383.5 L309.1 383.6 L309.3 383.7 L309.5 383.8 L309.7 383.9 L309.8 384 L309.9 384 L309.9 384.1 L309.9 384.1 L309.9 384.2 L309.8 384.2 L309.7 384.3 L309.5 384.4 L309.3 384.5 L309.1 384.6 L308.9 384.7 L308.6 384.9 L308.3 385 L308 385.3 L307.7 385.5 L307.4 385.8 L307 386.1 L306.6 386.4 L306.3 386.8 L305.9 387.3 L305.6 387.7 L305.2 388.2 L304.9 388.7 L304.5 389.3 L304.2 389.9 L304 390.5 L303.7 391.1 L303.5 391.8 L303.3 392.5 L303.2 393.2 L303.1 393.9 L303 394.6 L303 395.4 L303 396.1 L303.1 396.9 L303.2 397.6 L303.4 398.3 L303.6 399 L303.9 399.7 L304.2 400.3 L304.5 401 L304.9 401.6 L305.3 402.1 L305.8 402.7 L306.3 403.1 L306.9 403.6 L307.4 404 L308 404.3 L308.6 404.6 L309.3 404.8 L309.9 404.9 L310.6 405.1 L311.2 405.1 L311.9 405.1 L312.6 405 L313.2 404.9 L313.8 404.7 L314.5 404.4 L315.1 404.1 L315.7 403.8 L316.2 403.4 L316.7 402.9 L317.2 402.4 L317.7 401.9 L318.1 401.3 L318.5 400.7 L318.8 400 L319.1 399.4 L319.3 398.7 L319.5 397.9 L319.6 397.2 L319.7 396.5 L319.8 395.7 L319.8 395 L319.7 394.3 L319.7 393.6 L319.5 392.8 L319.4 392.1 L319.2 391.5 L319 390.8 L318.7 390.2 L318.4 389.6 L318.1 389 L317.8 388.5 L317.4 387.9 L317.1 387.5 L316.7 387 L316.3 386.6 L316 386.3 L315.6 385.9 L315.3 385.6 L314.9 385.4 L314.6 385.1 L314.3 385 L314 384.8 L313.8 384.6 L313.6 384.5 L313.4 384.4 L313.2 384.3 L313.1 384.3 L313 384.2 L312.9 384.1 L312.9 384.1 Z" fill="none" stroke="#2828d0" stroke-width="1"/>
<circle cx="276" cy="384.2" r="1.3" fill="#e02828"/>
<circle cx="291" cy="372.2" r="1.3" fill="#e02828"/>
<circle cx="288" cy="397.7" r="1.3" fill="#e02828"/>
<circle cx="334.5" cy="370.4" r="1.3" fill="#e02828"/>
<circle cx="345.7" cy="384.2" r="1.3" fill="#e02828"/>
<circle cx="330.7" cy="395.8" r="1.3" fill="#e02828"/>
<circle cx="307.5" cy="377.2" r="1.3" fill="#e02828"/>
<circle cx="316.5" cy="374.8" r="1.3" fill="#e02828"/>
<circle cx="311.2" cy="381.2" r="1.3" fill="#e02828"/>
<circle cx="311.2" cy="386.5" r="1.3" fill="#e02828"/>
<circle cx="306" cy="393.2" r="1.3" fill="#e02828"/>
<circle cx="315" cy="391" r="1.3" fill="#e02828"/>
<circle cx="311.2" cy="365.2" r="1.3" fill="#2020d0"/>
<circle cx="302.2" cy="368.8" r="1.3" fill="#2020d0"/>
<circle cx="319.2" cy="370.3" r="1.3" fill="#2020d0"/>
<circle cx="300.7" cy="378.2" r="1.3" fill="#2020d0"/>
<circle cx="319.2" cy="379" r="1.3" fill="#2020d0"/>
<circle cx="309" cy="383.8" r="1.3" fill="#2020d0"/>
<circle cx="313.8" cy="383.8" r="1.3" fill="#2020d0"/>
<circle cx="303.7" cy="388.3" r="1.3" fill="#2020d0"/>
<circle cx="321.7" cy="390.2" r="1.3" fill="#2020d0"/>
<circle cx="302.7" cy="398.5" r="1.3" fill="#2020d0"/>
<circle cx="319.5" cy="399.2" r="1.3" fill="#2020d0"/>
<circle cx="311.2" cy="402.7" r="1.3" fill="#2020d0"/>
<text x="311.7" y="339.8" text-anchor="middle" style='font-family:"Liberation Sans",sans-serif;font-weight:bold;font-size:5.2px' fill="#333">90</text>
<text x="332.6" y="346.2" text-anchor="middle" style='font-family:"Liberation Sans",sans-serif;font-weight:bold;font-size:5.2px' fill="#333">60</text>
<text x="288.3" y="346.2" text-anchor="middle" style='font-family:"Liberation Sans",sans-serif;font-weight:bold;font-size:5.2px' fill="#333">120</text>
<text x="349.9" y="363.5" text-anchor="middle" style='font-family:"Liberation Sans",sans-serif;font-weight:bold;font-size:5.2px' fill="#333">30</text>
<text x="271" y="363.5" text-anchor="middle" style='font-family:"Liberation Sans",sans-serif;font-weight:bold;font-size:5.2px' fill="#333">150</text>
<text x="354.8" y="386.1" text-anchor="middle" style='font-family:"Liberation Sans",sans-serif;font-weight:bold;font-size:5.2px' fill="#333">0</text>
<text x="265.3" y="386.1" text-anchor="middle" style='font-family:"Liberation Sans",sans-serif;font-weight:bold;font-size:5.2px' fill="#333">180</text>
<text x="349.9" y="408.3" text-anchor="middle" style='font-family:"Liberation Sans",sans-serif;font-weight:bold;font-size:5.2px' fill="#333">330</text>
<text x="271" y="408.3" text-anchor="middle" style='font-family:"Liberation Sans",sans-serif;font-weight:bold;font-size:5.2px' fill="#333">210</text>
<text x="333.9" y="425.6" text-anchor="middle" style='font-family:"Liberation Sans",sans-serif;font-weight:bold;font-size:5.2px' fill="#333">300</text>
<text x="287.8" y="425.6" text-anchor="middle" style='font-family:"Liberation Sans",sans-serif;font-weight:bold;font-size:5.2px' fill="#333">240</text>
<text x="311.7" y="431.7" text-anchor="middle" style='font-family:"Liberation Sans",sans-serif;font-weight:bold;font-size:5.2px' fill="#333">270</text>
<text x="347.4" y="341.3" text-anchor="middle" style='font-family:"Liberation Sans",sans-serif;font-size:4.5px' fill="#555">@P6</text>
<g fill="none" stroke="#f3f3f3" stroke-width="1"><rect x="208.5" y="202" width="14" height="13"/><path d="M211 206h9M211 209h9M211 212h9"/></g>
</svg></body></html>
